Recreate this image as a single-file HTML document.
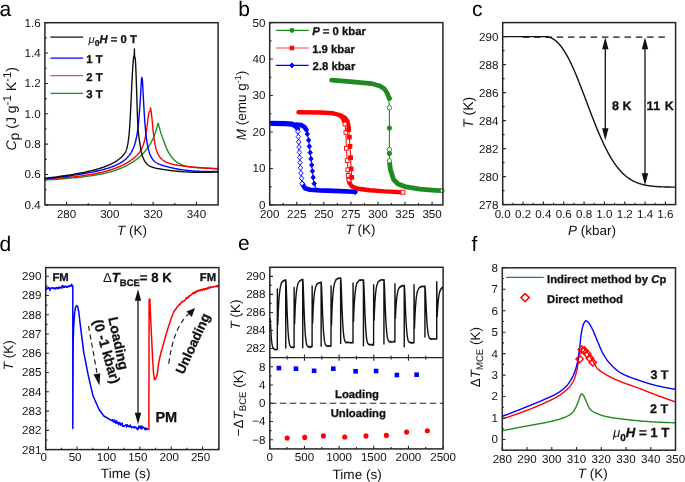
<!DOCTYPE html>
<html><head><meta charset="utf-8"><style>
html,body{margin:0;padding:0;background:#fff;}
svg{display:block;will-change:transform;}
text{font-family:"Liberation Sans", sans-serif;text-rendering:geometricPrecision;}
text[font-weight="bold"]{stroke:#111;stroke-width:0.3px;}
</style></head><body>
<svg width="685" height="482" viewBox="0 0 685 482">
<rect width="685" height="482" fill="#fff"/>
<text x="-0.6" y="15.6" font-size="21" fill="#000">a</text>
<text x="238.3" y="15.6" font-size="21" fill="#000">b</text>
<text x="472" y="15.6" font-size="21" fill="#000">c</text>
<text x="-0.6" y="251.3" font-size="21" fill="#000">d</text>
<text x="238" y="250.2" font-size="21" fill="#000">e</text>
<text x="471.6" y="250.5" font-size="21" fill="#000">f</text>
<polyline points="44.9,180.06 48.09,179.85 51.2,179.65 54.21,179.44 57.14,179.24 59.99,179.02 62.76,178.81 65.46,178.59 68.07,178.37 70.62,178.14 73.09,177.91 75.49,177.68 77.83,177.44 80.1,177.19 82.3,176.94 84.45,176.68 86.53,176.42 88.56,176.14 90.53,175.87 92.45,175.58 94.31,175.29 96.12,174.99 97.87,174.68 99.58,174.36 101.24,174.03 102.86,173.7 104.43,173.35 105.95,173 107.44,172.63 108.88,172.26 110.28,171.88 111.64,171.49 112.96,171.09 114.25,170.68 115.5,170.27 116.72,169.85 117.9,169.42 119.05,168.99 120.16,168.55 121.25,168.1 122.3,167.65 123.33,167.2 124.32,166.74 125.29,166.27 126.23,165.8 127.15,165.33 128.04,164.85 128.9,164.37 129.74,163.89 130.56,163.41 131.35,162.92 132.12,162.43 132.87,161.94 133.6,161.45 134.31,160.96 135,160.46 135.67,159.97 136.32,159.48 136.95,158.98 137.57,158.49 138.16,158 138.74,157.51 139.31,157.02 139.86,156.53 140.39,156.05 140.91,155.57 141.41,155.09 141.9,154.61 142.38,154.13 142.84,153.66 143.29,153.19 143.73,152.72 144.15,152.25 144.57,151.78 144.97,151.32 145.36,150.86 145.74,150.4 146.11,149.95 146.46,149.5 146.81,149.05 147.15,148.6 147.48,148.15 147.8,147.71 148.11,147.27 148.41,146.84 148.71,146.4 148.99,145.97 149.27,145.54 149.54,145.12 149.8,144.7 150.06,144.28 150.3,143.86 150.54,143.45 150.78,143.04 151.01,142.63 151.23,142.23 151.44,141.82 151.65,141.43 151.85,141.03 152.05,140.64 152.24,140.25 152.43,139.87 152.61,139.49 152.79,139.11 152.96,138.74 153.12,138.37 153.29,138 153.44,137.64 153.6,137.28 153.74,136.92 153.89,136.57 154.03,136.22 154.17,135.87 154.3,135.53 154.43,135.19 154.55,134.86 154.67,134.53 154.79,134.21 154.91,133.88 155.02,133.57 155.13,133.25 155.23,132.94 155.34,132.64 155.44,132.34 155.53,132.04 155.63,131.75 155.72,131.46 155.81,131.17 155.89,130.89 155.98,130.62 156.06,130.35 156.14,130.08 156.22,129.82 156.29,129.56 156.37,129.31 156.44,129.06 156.51,128.82 156.57,128.58 156.64,128.34 156.7,128.11 156.76,127.89 156.82,127.67 156.88,127.45 156.94,127.24 156.99,127.04 157.05,126.84 157.1,126.64 157.15,126.45 157.2,126.27 157.24,126.09 157.29,125.91 157.34,125.74 157.38,125.58 157.42,125.42 157.46,125.26 157.5,125.11 157.54,124.97 157.58,124.83 157.62,124.7 157.65,124.57 157.69,124.45 157.72,124.34 157.76,124.23 157.79,124.12 157.82,124.02 157.85,123.93 157.88,123.84 157.91,123.76 157.94,123.68 157.96,123.61 157.99,123.55 158.01,123.49 158.04,123.44 158.06,123.39 158.09,123.35 158.11,123.32 158.13,123.29 158.15,123.26 158.17,123.25 158.19,123.24 158.21,123.23 158.23,123.24 158.25,123.25 158.27,123.26 158.29,123.28 158.3,123.31 158.32,123.35 158.34,123.39 158.35,123.43 158.37,123.49 158.38,123.55 158.4,123.62 158.41,123.69 158.43,123.77 158.44,123.86 158.45,123.95 158.46,124.06 158.48,124.16 158.49,124.28 158.5,124.4 158.51,124.45 158.52,124.5 158.53,124.55 158.54,124.61 158.55,124.66 158.57,124.71 158.58,124.76 158.59,124.82 158.6,124.87 158.61,124.93 158.63,124.98 158.64,125.04 158.65,125.09 158.67,125.15 158.68,125.21 158.7,125.27 158.71,125.33 158.73,125.39 158.75,125.45 158.76,125.52 158.78,125.58 158.8,125.65 158.81,125.71 158.83,125.78 158.85,125.85 158.87,125.92 158.89,125.99 158.91,126.07 158.93,126.14 158.95,126.22 158.97,126.3 159,126.38 159.02,126.46 159.04,126.55 159.07,126.64 159.09,126.72 159.12,126.81 159.14,126.91 159.17,127 159.2,127.1 159.22,127.2 159.25,127.3 159.28,127.41 159.31,127.51 159.34,127.62 159.37,127.73 159.41,127.85 159.44,127.96 159.47,128.08 159.51,128.21 159.54,128.33 159.58,128.46 159.62,128.59 159.66,128.73 159.7,128.86 159.74,129 159.78,129.15 159.82,129.29 159.87,129.44 159.91,129.6 159.96,129.75 160.01,129.91 160.05,130.08 160.1,130.24 160.16,130.41 160.21,130.59 160.26,130.77 160.32,130.95 160.37,131.13 160.43,131.32 160.49,131.52 160.55,131.72 160.61,131.92 160.68,132.12 160.74,132.33 160.81,132.55 160.88,132.77 160.95,132.99 161.02,133.22 161.1,133.45 161.17,133.68 161.25,133.92 161.33,134.17 161.42,134.42 161.5,134.67 161.59,134.93 161.68,135.2 161.77,135.47 161.86,135.74 161.96,136.02 162.06,136.3 162.16,136.59 162.26,136.89 162.37,137.19 162.47,137.49 162.59,137.81 162.7,138.13 162.82,138.45 162.94,138.79 163.06,139.13 163.19,139.48 163.32,139.84 163.45,140.2 163.59,140.58 163.73,140.96 163.87,141.35 164.02,141.75 164.17,142.16 164.32,142.59 164.48,143.02 164.64,143.46 164.81,143.91 164.98,144.36 165.16,144.83 165.34,145.29 165.52,145.77 165.71,146.25 165.91,146.73 166.1,147.22 166.31,147.7 166.52,148.19 166.73,148.69 166.95,149.18 167.18,149.67 167.41,150.16 167.65,150.65 167.89,151.13 168.14,151.62 168.4,152.1 168.66,152.57 168.93,153.05 169.2,153.52 169.49,153.98 169.78,154.44 170.08,154.9 170.38,155.35 170.69,155.8 171.02,156.24 171.34,156.68 171.68,157.11 172.03,157.54 172.38,157.96 172.75,158.37 173.12,158.78 173.5,159.18 173.9,159.57 174.3,159.96 174.71,160.34 175.14,160.71 175.57,161.08 176.02,161.43 176.47,161.78 176.94,162.12 177.42,162.45 177.92,162.78 178.42,163.09 178.94,163.4 179.47,163.69 180.02,163.98 180.57,164.25 181.15,164.52 181.73,164.78 182.34,165.02 182.96,165.26 183.59,165.48 184.24,165.7 184.91,165.9 185.59,166.09 186.29,166.27 187.01,166.43 187.75,166.59 188.5,166.73 189.28,166.87 190.07,166.99 190.89,167.1 191.72,167.21 192.58,167.31 193.46,167.4 194.36,167.48 195.29,167.56 196.23,167.63 197.21,167.69 198.2,167.75 199.23,167.81 200.28,167.86 201.35,167.91 202.45,167.96 203.58,168.01 204.74,168.06 205.93,168.1 207.15,168.15 208.4,168.19 209.69,168.24 211,168.29 212.35,168.35 213.73,168.4 215.15,168.46 216.61,168.53 218.1,168.6" fill="none" stroke="#1f8a1f" stroke-width="1.4" stroke-linejoin="round" stroke-linecap="round"/>
<polyline points="44.9,178.87 47.83,178.72 50.67,178.57 53.44,178.41 56.13,178.24 58.75,178.07 61.3,177.88 63.77,177.69 66.18,177.49 68.52,177.28 70.79,177.07 73,176.84 75.15,176.61 77.24,176.37 79.28,176.13 81.25,175.88 83.18,175.62 85.05,175.36 86.86,175.09 88.63,174.81 90.35,174.53 92.02,174.24 93.65,173.95 95.23,173.65 96.76,173.35 98.26,173.04 99.71,172.72 101.12,172.4 102.49,172.08 103.83,171.75 105.13,171.42 106.39,171.08 107.62,170.74 108.81,170.39 109.97,170.04 111.1,169.69 112.2,169.33 113.27,168.97 114.3,168.61 115.31,168.24 116.29,167.87 117.25,167.5 118.18,167.13 119.08,166.75 119.95,166.37 120.81,165.99 121.64,165.61 122.44,165.22 123.23,164.84 123.99,164.45 124.73,164.06 125.45,163.67 126.15,163.28 126.83,162.88 127.5,162.49 128.14,162.1 128.77,161.7 129.38,161.31 129.97,160.91 130.54,160.52 131.1,160.12 131.65,159.73 132.18,159.34 132.69,158.94 133.19,158.55 133.68,158.16 134.15,157.77 134.61,157.38 135.06,156.99 135.5,156.61 135.92,156.22 136.33,155.84 136.73,155.46 137.12,155.07 137.5,154.69 137.86,154.3 138.22,153.9 138.57,153.5 138.91,153.1 139.24,152.68 139.56,152.26 139.87,151.83 140.17,151.39 140.46,150.93 140.75,150.46 141.03,149.98 141.3,149.48 141.56,148.97 141.82,148.44 142.06,147.9 142.31,147.34 142.54,146.77 142.77,146.19 142.99,145.6 143.21,144.99 143.42,144.37 143.62,143.74 143.82,143.09 144.01,142.44 144.2,141.77 144.38,141.09 144.56,140.4 144.73,139.7 144.9,138.99 145.06,138.27 145.22,137.54 145.38,136.8 145.53,136.05 145.67,135.29 145.81,134.53 145.95,133.75 146.09,132.97 146.22,132.17 146.34,131.38 146.47,130.57 146.59,129.76 146.7,128.94 146.82,128.11 146.93,127.29 147.03,126.46 147.14,125.65 147.24,124.84 147.34,124.04 147.43,123.26 147.53,122.5 147.62,121.76 147.7,121.05 147.79,120.36 147.87,119.71 147.95,119.08 148.03,118.49 148.11,117.93 148.18,117.39 148.26,116.89 148.33,116.41 148.39,115.96 148.46,115.53 148.53,115.13 148.59,114.75 148.65,114.4 148.71,114.07 148.77,113.76 148.82,113.48 148.88,113.21 148.93,112.97 148.98,112.74 149.03,112.54 149.08,112.35 149.13,112.17 149.18,112.02 149.22,111.88 149.26,111.75 149.31,111.64 149.35,111.54 149.39,111.45 149.43,111.37 149.46,111.31 149.5,111.25 149.54,111.21 149.57,111.17 149.61,111.14 149.64,111.12 149.67,111.11 149.7,111.1 149.73,111.09 149.76,111.09 149.79,111.09 149.82,111.09 149.85,111.1 149.87,111.11 149.9,111.11 149.92,111.12 149.95,111.13 149.97,111.13 149.99,111.13 150.02,111.13 150.04,111.12 150.06,111.11 150.08,111.09 150.1,111.06 150.12,111.03 150.14,110.99 150.16,110.94 150.17,110.88 150.19,110.81 150.21,110.73 150.22,110.64 150.24,110.53 150.26,110.41 150.27,110.28 150.29,110.13 150.3,109.97 150.31,109.79 150.33,109.59 150.34,109.37 150.35,109.14 150.36,108.89 150.38,108.61 150.39,108.32 150.4,108 150.41,108.05 150.42,108.11 150.43,108.16 150.44,108.2 150.46,108.24 150.47,108.29 150.48,108.33 150.49,108.37 150.5,108.4 150.52,108.44 150.53,108.48 150.55,108.52 150.56,108.56 150.57,108.6 150.59,108.64 150.6,108.68 150.62,108.73 150.64,108.77 150.65,108.83 150.67,108.88 150.69,108.94 150.71,109 150.72,109.06 150.74,109.13 150.76,109.21 150.78,109.29 150.8,109.37 150.82,109.46 150.85,109.56 150.87,109.67 150.89,109.78 150.91,109.9 150.94,110.03 150.96,110.16 150.99,110.31 151.01,110.46 151.04,110.62 151.07,110.8 151.09,110.98 151.12,111.17 151.15,111.38 151.18,111.59 151.21,111.82 151.25,112.06 151.28,112.31 151.31,112.57 151.35,112.84 151.38,113.13 151.42,113.44 151.45,113.75 151.49,114.08 151.53,114.43 151.57,114.79 151.61,115.17 151.65,115.56 151.7,115.97 151.74,116.39 151.79,116.83 151.83,117.29 151.88,117.77 151.93,118.26 151.98,118.77 152.03,119.3 152.09,119.86 152.14,120.42 152.2,121.01 152.26,121.62 152.31,122.25 152.37,122.9 152.44,123.56 152.5,124.24 152.57,124.93 152.63,125.64 152.7,126.35 152.77,127.08 152.85,127.82 152.92,128.56 153,129.32 153.07,130.08 153.15,130.84 153.24,131.6 153.32,132.37 153.41,133.14 153.5,133.91 153.59,134.68 153.68,135.45 153.78,136.22 153.88,136.98 153.98,137.74 154.08,138.49 154.19,139.24 154.3,139.99 154.41,140.72 154.53,141.45 154.65,142.17 154.77,142.88 154.89,143.58 155.02,144.27 155.15,144.94 155.29,145.61 155.43,146.26 155.57,146.89 155.71,147.51 155.86,148.11 156.02,148.7 156.17,149.27 156.33,149.82 156.5,150.35 156.67,150.87 156.84,151.37 157.02,151.85 157.21,152.32 157.4,152.77 157.59,153.21 157.79,153.64 157.99,154.06 158.2,154.46 158.41,154.85 158.63,155.24 158.86,155.61 159.09,155.98 159.33,156.33 159.57,156.68 159.82,157.02 160.08,157.35 160.34,157.67 160.61,157.99 160.89,158.29 161.18,158.59 161.47,158.88 161.77,159.16 162.08,159.44 162.39,159.71 162.72,159.97 163.05,160.22 163.39,160.47 163.74,160.71 164.1,160.94 164.47,161.17 164.85,161.39 165.24,161.6 165.63,161.81 166.04,162.01 166.46,162.21 166.89,162.4 167.34,162.59 167.79,162.77 168.25,162.95 168.73,163.12 169.22,163.29 169.72,163.45 170.24,163.61 170.77,163.76 171.31,163.91 171.87,164.06 172.44,164.2 173.03,164.34 173.63,164.48 174.25,164.61 174.88,164.74 175.53,164.87 176.2,164.99 176.89,165.11 177.59,165.23 178.31,165.35 179.05,165.46 179.81,165.57 180.59,165.68 181.39,165.79 182.21,165.9 183.05,166 183.92,166.11 184.81,166.21 185.72,166.31 186.65,166.42 187.61,166.52 188.59,166.62 189.6,166.72 190.64,166.82 191.7,166.92 192.79,167.02 193.91,167.12 195.06,167.22 196.24,167.32 197.44,167.43 198.69,167.53 199.96,167.64 201.26,167.74 202.61,167.85 203.98,167.96 205.39,168.07 206.84,168.18 208.33,168.3 209.85,168.42 211.42,168.54 213.02,168.66 214.67,168.78 216.36,168.91 218.1,169.04" fill="none" stroke="#ff0000" stroke-width="1.4" stroke-linejoin="round" stroke-linecap="round"/>
<polyline points="44.9,178.92 47.55,178.62 50.13,178.32 52.64,178.02 55.09,177.72 57.46,177.43 59.77,177.14 62.02,176.85 64.21,176.56 66.33,176.27 68.4,175.99 70.41,175.71 72.37,175.43 74.28,175.15 76.13,174.87 77.93,174.59 79.68,174.31 81.39,174.03 83.05,173.76 84.66,173.48 86.23,173.2 87.76,172.93 89.25,172.65 90.69,172.37 92.1,172.1 93.46,171.82 94.79,171.54 96.09,171.26 97.35,170.98 98.57,170.7 99.76,170.42 100.92,170.14 102.05,169.85 103.14,169.56 104.21,169.28 105.25,168.99 106.26,168.69 107.24,168.4 108.19,168.1 109.12,167.8 110.03,167.5 110.9,167.2 111.76,166.89 112.59,166.58 113.4,166.27 114.19,165.95 114.95,165.63 115.7,165.3 116.42,164.98 117.13,164.65 117.81,164.31 118.48,163.97 119.13,163.63 119.76,163.28 120.37,162.93 120.97,162.57 121.55,162.21 122.12,161.84 122.67,161.47 123.2,161.09 123.72,160.71 124.23,160.32 124.72,159.93 125.2,159.53 125.66,159.12 126.12,158.71 126.56,158.3 126.99,157.87 127.4,157.44 127.81,157.01 128.2,156.56 128.59,156.11 128.96,155.65 129.32,155.19 129.68,154.72 130.02,154.24 130.36,153.75 130.68,153.26 131,152.76 131.31,152.25 131.61,151.73 131.9,151.2 132.18,150.66 132.46,150.11 132.72,149.55 132.98,148.98 133.24,148.4 133.49,147.81 133.73,147.21 133.96,146.59 134.19,145.97 134.41,145.33 134.62,144.68 134.83,144.01 135.03,143.34 135.23,142.64 135.42,141.94 135.61,141.22 135.79,140.48 135.97,139.73 136.14,138.97 136.31,138.19 136.47,137.39 136.63,136.58 136.79,135.75 136.94,134.9 137.08,134.04 137.23,133.16 137.36,132.26 137.5,131.34 137.63,130.41 137.76,129.45 137.88,128.48 138,127.48 138.12,126.48 138.23,125.45 138.34,124.42 138.45,123.37 138.56,122.32 138.66,121.26 138.76,120.19 138.85,119.12 138.95,118.05 139.04,116.98 139.13,115.92 139.21,114.85 139.3,113.8 139.38,112.75 139.46,111.71 139.54,110.69 139.61,109.67 139.68,108.67 139.76,107.68 139.83,106.7 139.89,105.73 139.96,104.78 140.02,103.83 140.08,102.9 140.14,101.98 140.2,101.08 140.26,100.19 140.32,99.31 140.37,98.45 140.42,97.6 140.47,96.76 140.52,95.94 140.57,95.14 140.62,94.34 140.66,93.57 140.71,92.81 140.75,92.06 140.79,91.33 140.84,90.62 140.88,89.92 140.91,89.24 140.95,88.58 140.99,87.93 141.02,87.3 141.06,86.69 141.09,86.1 141.13,85.52 141.16,84.96 141.19,84.42 141.22,83.9 141.25,83.4 141.28,82.91 141.31,82.45 141.33,82 141.36,81.57 141.38,81.17 141.41,80.78 141.43,80.42 141.46,80.07 141.48,79.74 141.5,79.44 141.52,79.16 141.55,78.9 141.57,78.66 141.59,78.44 141.61,78.24 141.62,78.07 141.64,77.92 141.66,77.79 141.68,77.68 141.69,77.6 141.71,77.54 141.73,77.51 141.74,77.5 141.76,77.51 141.77,77.55 141.79,77.61 141.8,77.69 141.81,77.81 141.83,77.94 141.84,78.1 141.85,78.29 141.87,78.5 141.88,78.74 141.89,79.01 141.9,79.3 141.91,79.09 141.92,78.9 141.93,78.73 141.94,78.57 141.96,78.42 141.97,78.29 141.98,78.17 141.99,78.08 142.01,77.99 142.02,77.93 142.03,77.88 142.05,77.84 142.06,77.83 142.08,77.83 142.09,77.85 142.11,77.88 142.13,77.93 142.14,78 142.16,78.09 142.18,78.2 142.2,78.32 142.22,78.47 142.23,78.63 142.25,78.81 142.27,79.01 142.29,79.23 142.32,79.46 142.34,79.72 142.36,80 142.38,80.29 142.41,80.61 142.43,80.95 142.46,81.31 142.48,81.68 142.51,82.08 142.53,82.5 142.56,82.94 142.59,83.4 142.62,83.89 142.65,84.39 142.68,84.92 142.71,85.47 142.75,86.04 142.78,86.63 142.81,87.25 142.85,87.89 142.88,88.55 142.92,89.24 142.96,89.94 143,90.68 143.04,91.43 143.08,92.21 143.12,93.01 143.16,93.84 143.21,94.69 143.26,95.57 143.3,96.47 143.35,97.39 143.4,98.33 143.45,99.3 143.5,100.28 143.56,101.29 143.61,102.31 143.67,103.35 143.73,104.41 143.79,105.49 143.85,106.58 143.91,107.68 143.97,108.8 144.04,109.94 144.11,111.08 144.18,112.24 144.25,113.4 144.32,114.58 144.4,115.76 144.48,116.95 144.56,118.14 144.64,119.34 144.72,120.53 144.81,121.72 144.9,122.91 144.99,124.09 145.08,125.26 145.18,126.43 145.27,127.58 145.38,128.72 145.48,129.84 145.59,130.95 145.69,132.03 145.81,133.11 145.92,134.16 146.04,135.19 146.16,136.21 146.29,137.21 146.42,138.19 146.55,139.15 146.68,140.1 146.82,141.02 146.96,141.93 147.11,142.82 147.26,143.69 147.41,144.54 147.57,145.38 147.73,146.19 147.9,146.99 148.07,147.77 148.25,148.53 148.43,149.27 148.61,149.99 148.8,150.69 149,151.37 149.2,152.04 149.41,152.68 149.62,153.31 149.83,153.92 150.06,154.5 150.29,155.07 150.52,155.62 150.76,156.15 151.01,156.66 151.27,157.15 151.53,157.62 151.8,158.07 152.07,158.5 152.35,158.92 152.64,159.32 152.94,159.7 153.25,160.06 153.56,160.42 153.89,160.75 154.22,161.07 154.56,161.38 154.91,161.68 155.27,161.96 155.63,162.24 156.01,162.5 156.4,162.75 156.8,162.99 157.21,163.23 157.63,163.45 158.06,163.67 158.5,163.88 158.96,164.08 159.43,164.28 159.91,164.47 160.4,164.66 160.9,164.84 161.42,165.02 161.96,165.2 162.5,165.37 163.07,165.54 163.64,165.72 164.23,165.89 164.84,166.06 165.47,166.23 166.11,166.41 166.77,166.58 167.44,166.76 168.14,166.94 168.85,167.12 169.58,167.31 170.33,167.49 171.11,167.67 171.9,167.86 172.71,168.04 173.55,168.22 174.4,168.4 175.28,168.58 176.19,168.76 177.12,168.94 178.07,169.11 179.05,169.28 180.05,169.45 181.08,169.61 182.14,169.77 183.23,169.93 184.35,170.08 185.49,170.22 186.67,170.36 187.88,170.5 189.12,170.62 190.4,170.75 191.7,170.86 193.05,170.97 194.43,171.07 195.84,171.16 197.3,171.24 198.79,171.32 200.32,171.39 201.9,171.44 203.51,171.49 205.17,171.53 206.88,171.56 208.63,171.57 210.42,171.58 212.27,171.57 214.16,171.56 216.1,171.53 218.1,171.49" fill="none" stroke="#0000ff" stroke-width="1.4" stroke-linejoin="round" stroke-linecap="round"/>
<polyline points="44.9,178.24 47.31,177.96 49.66,177.68 51.95,177.4 54.17,177.13 56.34,176.85 58.44,176.57 60.49,176.29 62.49,176.01 64.43,175.73 66.32,175.45 68.16,175.17 69.94,174.89 71.69,174.61 73.38,174.33 75.03,174.05 76.63,173.77 78.19,173.48 79.71,173.2 81.19,172.92 82.63,172.63 84.03,172.35 85.39,172.06 86.72,171.77 88.01,171.49 89.27,171.2 90.49,170.91 91.68,170.62 92.84,170.33 93.96,170.04 95.06,169.75 96.13,169.46 97.16,169.16 98.17,168.87 99.16,168.57 100.11,168.28 101.05,167.98 101.95,167.68 102.83,167.38 103.69,167.08 104.53,166.78 105.34,166.48 106.13,166.17 106.9,165.87 107.65,165.56 108.38,165.25 109.09,164.94 109.78,164.63 110.45,164.32 111.1,164.01 111.74,163.7 112.36,163.38 112.96,163.06 113.55,162.75 114.12,162.43 114.67,162.1 115.21,161.78 115.74,161.46 116.25,161.13 116.75,160.81 117.23,160.48 117.7,160.15 118.16,159.81 118.61,159.48 119.04,159.15 119.47,158.81 119.88,158.47 120.28,158.13 120.67,157.79 121.05,157.44 121.42,157.1 121.78,156.75 122.13,156.4 122.47,156.05 122.8,155.69 123.12,155.34 123.43,154.98 123.74,154.61 124.04,154.24 124.32,153.85 124.61,153.44 124.88,153.01 125.15,152.56 125.4,152.08 125.66,151.57 125.9,151.02 126.14,150.43 126.37,149.8 126.6,149.13 126.82,148.41 127.03,147.63 127.24,146.8 127.45,145.91 127.64,144.95 127.84,143.93 128.02,142.84 128.2,141.67 128.38,140.43 128.55,139.11 128.72,137.7 128.88,136.2 129.04,134.61 129.2,132.93 129.35,131.15 129.49,129.26 129.64,127.28 129.78,125.22 129.91,123.09 130.04,120.91 130.17,118.68 130.29,116.43 130.41,114.15 130.53,111.88 130.65,109.61 130.76,107.36 130.87,105.12 130.97,102.91 131.08,100.73 131.18,98.59 131.27,96.5 131.37,94.45 131.46,92.46 131.55,90.53 131.64,88.67 131.72,86.88 131.8,85.16 131.88,83.51 131.96,81.92 132.04,80.4 132.11,78.94 132.18,77.55 132.26,76.21 132.32,74.94 132.39,73.72 132.45,72.56 132.52,71.45 132.58,70.4 132.64,69.4 132.7,68.44 132.75,67.54 132.81,66.69 132.86,65.88 132.91,65.12 132.96,64.4 133.01,63.72 133.06,63.08 133.11,62.49 133.15,61.92 133.2,61.4 133.24,60.91 133.28,60.45 133.32,60.03 133.36,59.64 133.4,59.27 133.44,58.94 133.48,58.62 133.51,58.34 133.55,58.07 133.58,57.83 133.61,57.61 133.64,57.41 133.68,57.23 133.71,57.06 133.73,56.9 133.76,56.76 133.79,56.64 133.82,56.52 133.84,56.41 133.87,56.31 133.9,56.21 133.92,56.12 133.94,56.03 133.97,55.94 133.99,55.86 134.01,55.77 134.03,55.68 134.05,55.59 134.07,55.49 134.09,55.38 134.11,55.27 134.13,55.14 134.15,55.01 134.16,54.86 134.18,54.69 134.2,54.52 134.21,54.32 134.23,54.11 134.25,53.87 134.26,53.62 134.27,53.34 134.29,53.04 134.3,52.71 134.32,52.36 134.33,51.98 134.34,51.56 134.35,51.12 134.37,50.64 134.38,50.13 134.39,49.58 134.4,49 134.41,49.83 134.42,50.59 134.43,51.3 134.45,51.95 134.46,52.55 134.47,53.1 134.48,53.59 134.5,54.04 134.51,54.45 134.52,54.81 134.54,55.14 134.55,55.43 134.57,55.68 134.58,55.9 134.6,56.09 134.61,56.26 134.63,56.4 134.65,56.51 134.67,56.61 134.68,56.68 134.7,56.75 134.72,56.8 134.74,56.83 134.76,56.86 134.78,56.89 134.8,56.91 134.83,56.93 134.85,56.95 134.87,56.97 134.9,57 134.92,57.04 134.95,57.09 134.97,57.16 135,57.23 135.02,57.33 135.05,57.45 135.08,57.59 135.11,57.75 135.14,57.94 135.17,58.17 135.2,58.42 135.24,58.71 135.27,59.04 135.31,59.41 135.34,59.81 135.38,60.27 135.41,60.77 135.45,61.32 135.49,61.92 135.53,62.57 135.58,63.28 135.62,64.05 135.66,64.88 135.71,65.78 135.75,66.74 135.8,67.76 135.85,68.86 135.9,70.04 135.95,71.28 136.01,72.61 136.06,74.01 136.12,75.5 136.17,77.08 136.23,78.74 136.29,80.49 136.36,82.33 136.42,84.27 136.49,86.3 136.56,88.44 136.62,90.68 136.7,93.01 136.77,95.42 136.85,97.9 136.92,100.42 137,102.98 137.08,105.55 137.17,108.12 137.25,110.67 137.34,113.18 137.43,115.64 137.53,118.03 137.62,120.33 137.72,122.54 137.82,124.62 137.93,126.56 138.04,128.36 138.15,129.98 138.26,131.44 138.37,132.75 138.49,133.93 138.62,135 138.74,135.99 138.87,136.92 139,137.8 139.14,138.67 139.28,139.54 139.42,140.43 139.57,141.37 139.72,142.36 139.88,143.38 140.04,144.44 140.2,145.51 140.37,146.59 140.55,147.66 140.72,148.72 140.91,149.74 141.1,150.73 141.29,151.67 141.49,152.55 141.69,153.38 141.9,154.17 142.12,154.92 142.34,155.64 142.56,156.33 142.8,156.99 143.04,157.62 143.28,158.23 143.54,158.82 143.8,159.38 144.06,159.92 144.34,160.44 144.62,160.93 144.91,161.4 145.2,161.86 145.51,162.29 145.82,162.7 146.15,163.09 146.48,163.47 146.82,163.83 147.17,164.17 147.52,164.49 147.89,164.8 148.27,165.09 148.66,165.37 149.06,165.63 149.47,165.88 149.89,166.12 150.32,166.35 150.77,166.56 151.22,166.77 151.69,166.96 152.18,167.14 152.67,167.32 153.18,167.48 153.7,167.64 154.24,167.79 154.79,167.94 155.36,168.07 155.94,168.21 156.54,168.34 157.15,168.46 157.78,168.58 158.43,168.7 159.09,168.81 159.78,168.93 160.48,169.04 161.2,169.15 161.94,169.27 162.7,169.38 163.48,169.5 164.29,169.61 165.11,169.73 165.96,169.85 166.83,169.98 167.72,170.1 168.64,170.23 169.59,170.35 170.56,170.48 171.55,170.6 172.58,170.73 173.63,170.85 174.71,170.97 175.81,171.09 176.95,171.21 178.12,171.32 179.33,171.43 180.56,171.54 181.83,171.64 183.13,171.74 184.47,171.83 185.84,171.92 187.26,172 188.71,172.07 190.2,172.14 191.73,172.2 193.3,172.25 194.92,172.29 196.58,172.33 198.28,172.35 200.03,172.37 201.83,172.37 203.68,172.37 205.58,172.35 207.53,172.33 209.53,172.29 211.59,172.24 213.7,172.17 215.87,172.1 218.1,172.01" fill="none" stroke="#111" stroke-width="1.4" stroke-linejoin="round" stroke-linecap="round"/>
<path d="M50.4 37.1H83.1" stroke="#111" stroke-width="1.3"/>
<path d="M50.4 58.1H83.1" stroke="#0000ff" stroke-width="1.3"/>
<path d="M50.4 75.7H83.1" stroke="#ff4040" stroke-width="1.3"/>
<path d="M50.4 93.4H83.1" stroke="#1f8a1f" stroke-width="1.3"/>
<text x="88.6" y="42.8" font-size="11.3" font-weight="bold" fill="#111"><tspan font-style="italic" font-weight="normal" stroke-width="0">μ</tspan><tspan font-size="8.5" dy="3">0</tspan><tspan font-style="italic" dy="-3">H</tspan> = 0 T</text>
<text x="86.3" y="62.9" font-size="11.3" font-weight="bold" fill="#111">1 T</text>
<text x="86.3" y="80.5" font-size="11.3" font-weight="bold" fill="#111">2 T</text>
<text x="86.3" y="98.2" font-size="11.3" font-weight="bold" fill="#111">3 T</text>
<rect x="44.9" y="22.7" width="173.2" height="182.2" fill="none" stroke="#262626" stroke-width="1.5"/>
<path d="M66.55 204.9V201.7M109.85 204.9V201.7M153.15 204.9V201.7M196.45 204.9V201.7M88.2 204.9V203.1M131.5 204.9V203.1M174.8 204.9V203.1" stroke="#262626" stroke-width="1.1" fill="none"/>
<text x="66.55" y="218.4" font-size="11.6" text-anchor="middle" fill="#111">280</text>
<text x="109.85" y="218.4" font-size="11.6" text-anchor="middle" fill="#111">300</text>
<text x="153.15" y="218.4" font-size="11.6" text-anchor="middle" fill="#111">320</text>
<text x="196.45" y="218.4" font-size="11.6" text-anchor="middle" fill="#111">340</text>
<path d="M44.9 204.9H48.1M44.9 174.53H48.1M44.9 144.17H48.1M44.9 113.8H48.1M44.9 83.43H48.1M44.9 53.07H48.1M44.9 22.7H48.1M44.9 189.72H46.7M44.9 159.35H46.7M44.9 128.98H46.7M44.9 98.62H46.7M44.9 68.25H46.7M44.9 37.88H46.7" stroke="#262626" stroke-width="1.1" fill="none"/>
<text x="40.6" y="208.8" font-size="11.6" text-anchor="end" fill="#111">0.4</text>
<text x="40.6" y="178.43" font-size="11.6" text-anchor="end" fill="#111">0.6</text>
<text x="40.6" y="148.07" font-size="11.6" text-anchor="end" fill="#111">0.8</text>
<text x="40.6" y="117.7" font-size="11.6" text-anchor="end" fill="#111">1.0</text>
<text x="40.6" y="87.33" font-size="11.6" text-anchor="end" fill="#111">1.2</text>
<text x="40.6" y="56.97" font-size="11.6" text-anchor="end" fill="#111">1.4</text>
<text x="40.6" y="26.6" font-size="11.6" text-anchor="end" fill="#111">1.6</text>
<text x="132" y="234.5" font-size="13.5" text-anchor="middle" fill="#111"><tspan font-style="italic">T</tspan> (K)</text>
<text transform="translate(15.6 108.8) rotate(-90)" font-size="14" text-anchor="middle" fill="#111"><tspan font-style="italic">C</tspan><tspan dy="3">p</tspan><tspan dy="-3"> (J g</tspan><tspan font-size="11.5" dy="-5">-1</tspan><tspan dy="5"> K</tspan><tspan font-size="11.5" dy="-5">-1</tspan><tspan dy="5">)</tspan></text>
<path d="M271.5 123.4 L285 123.6 L292 124.2 L295.5 125.8 L297.5 128.5" fill="none" stroke="#0000ff" stroke-width="5.2" stroke-linejoin="round" stroke-linecap="round"/>
<path d="M296 124.5 L301 125 L304.5 127 L306.5 130" fill="none" stroke="#0000ff" stroke-width="4.6" stroke-linejoin="round" stroke-linecap="round"/>
<path d="M297.5 128.5 L298.6 140 L299.5 155 L300.6 170 L302 182 L305 188" fill="none" stroke="#0000ff" stroke-width="1.0" stroke-linejoin="round" stroke-linecap="round"/>
<path d="M306.5 130 L308.6 140 L310.5 155 L312.3 170 L313.7 182 L316 188.5" fill="none" stroke="#0000ff" stroke-width="1.0" stroke-linejoin="round" stroke-linecap="round"/>
<path d="M302.5 184 L305 188.3 L310 189.8 L320 190.4 L340 191.1 L354.5 191.8" fill="none" stroke="#0000ff" stroke-width="4.6" stroke-linejoin="round" stroke-linecap="round"/>
<path d="M297.79 128.97L299.99 131.5L297.79 134.03L295.59 131.5Z" fill="#fff" stroke="#0000ff" stroke-width="0.9"/>
<path d="M298.28 134.17L300.48 136.7L298.28 139.23L296.08 136.7Z" fill="#fff" stroke="#0000ff" stroke-width="0.9"/>
<path d="M298.71 139.37L300.91 141.9L298.71 144.43L296.51 141.9Z" fill="#fff" stroke="#0000ff" stroke-width="0.9"/>
<path d="M299.03 144.57L301.23 147.1L299.03 149.63L296.83 147.1Z" fill="#fff" stroke="#0000ff" stroke-width="0.9"/>
<path d="M299.34 149.77L301.54 152.3L299.34 154.83L297.14 152.3Z" fill="#fff" stroke="#0000ff" stroke-width="0.9"/>
<path d="M299.68 154.97L301.88 157.5L299.68 160.03L297.48 157.5Z" fill="#fff" stroke="#0000ff" stroke-width="0.9"/>
<path d="M300.06 160.17L302.26 162.7L300.06 165.23L297.86 162.7Z" fill="#fff" stroke="#0000ff" stroke-width="0.9"/>
<path d="M300.45 165.37L302.65 167.9L300.45 170.43L298.25 167.9Z" fill="#fff" stroke="#0000ff" stroke-width="0.9"/>
<path d="M300.96 170.57L303.16 173.1L300.96 175.63L298.76 173.1Z" fill="#fff" stroke="#0000ff" stroke-width="0.9"/>
<path d="M301.57 175.77L303.77 178.3L301.57 180.83L299.37 178.3Z" fill="#fff" stroke="#0000ff" stroke-width="0.9"/>
<path d="M302 180.97L304.2 183.5L302 186.03L299.8 183.5Z" fill="#fff" stroke="#0000ff" stroke-width="0.9"/>
<path d="M307.34 131.47L309.54 134L307.34 136.53L305.14 134Z" fill="#0000ff" stroke="#0000ff" stroke-width="0.9"/>
<path d="M308.63 137.67L310.83 140.2L308.63 142.73L306.43 140.2Z" fill="#0000ff" stroke="#0000ff" stroke-width="0.9"/>
<path d="M309.41 143.87L311.61 146.4L309.41 148.93L307.21 146.4Z" fill="#0000ff" stroke="#0000ff" stroke-width="0.9"/>
<path d="M310.2 150.07L312.4 152.6L310.2 155.13L308 152.6Z" fill="#0000ff" stroke="#0000ff" stroke-width="0.9"/>
<path d="M310.96 156.27L313.16 158.8L310.96 161.33L308.76 158.8Z" fill="#0000ff" stroke="#0000ff" stroke-width="0.9"/>
<path d="M311.7 162.47L313.9 165L311.7 167.53L309.5 165Z" fill="#0000ff" stroke="#0000ff" stroke-width="0.9"/>
<path d="M312.44 168.67L314.64 171.2L312.44 173.73L310.24 171.2Z" fill="#0000ff" stroke="#0000ff" stroke-width="0.9"/>
<path d="M313.16 174.87L315.36 177.4L313.16 179.93L310.96 177.4Z" fill="#0000ff" stroke="#0000ff" stroke-width="0.9"/>
<path d="M314.27 181.07L316.47 183.6L314.27 186.13L312.07 183.6Z" fill="#0000ff" stroke="#0000ff" stroke-width="0.9"/>
<path d="M355.2 189.14L357.6 191.9L355.2 194.66L352.8 191.9Z" fill="#0000ff" stroke="#0000ff" stroke-width="0.9"/>
<path d="M298.5 112.2 L320 112.5 L333 113.3 L339 114.8 L342.5 117.5 L344.5 122" fill="none" stroke="#ff0000" stroke-width="4.4" stroke-linejoin="round" stroke-linecap="round"/>
<path d="M340 115 L345 117.5 L347.8 121.5 L348.8 127" fill="none" stroke="#ff0000" stroke-width="4.0" stroke-linejoin="round" stroke-linecap="round"/>
<path d="M345 124 L345.9 132.4 L346.4 148.3 L347.2 160.5 L347.8 169.8 L348.3 175.4 L349 180" fill="none" stroke="#ff0000" stroke-width="1.0" stroke-linejoin="round" stroke-linecap="round"/>
<path d="M348.7 129.6 L349.3 137.1 L350 146.4 L350.6 157.7 L351.1 168.9 L351.7 177.3" fill="none" stroke="#ff0000" stroke-width="1.0" stroke-linejoin="round" stroke-linecap="round"/>
<path d="M348.6 178 L349.5 183 L352 186.5 L358 188.8 L370 190.3 L385 191.4 L401.5 192.2" fill="none" stroke="#ff0000" stroke-width="4.4" stroke-linejoin="round" stroke-linecap="round"/>
<rect x="343.1" y="122.1" width="3.8" height="3.8" fill="#fff" stroke="#ff0000" stroke-width="0.9"/>
<rect x="344" y="130.5" width="3.8" height="3.8" fill="#fff" stroke="#ff0000" stroke-width="0.9"/>
<rect x="344.5" y="146.4" width="3.8" height="3.8" fill="#fff" stroke="#ff0000" stroke-width="0.9"/>
<rect x="345.3" y="158.6" width="3.8" height="3.8" fill="#fff" stroke="#ff0000" stroke-width="0.9"/>
<rect x="345.9" y="167.9" width="3.8" height="3.8" fill="#fff" stroke="#ff0000" stroke-width="0.9"/>
<rect x="346.4" y="173.5" width="3.8" height="3.8" fill="#fff" stroke="#ff0000" stroke-width="0.9"/>
<rect x="347.1" y="178.1" width="3.8" height="3.8" fill="#fff" stroke="#ff0000" stroke-width="0.9"/>
<rect x="346.8" y="127.7" width="3.8" height="3.8" fill="#ff0000" stroke="#ff0000" stroke-width="0.9"/>
<rect x="347.4" y="135.2" width="3.8" height="3.8" fill="#ff0000" stroke="#ff0000" stroke-width="0.9"/>
<rect x="348.1" y="144.5" width="3.8" height="3.8" fill="#ff0000" stroke="#ff0000" stroke-width="0.9"/>
<rect x="348.7" y="155.8" width="3.8" height="3.8" fill="#ff0000" stroke="#ff0000" stroke-width="0.9"/>
<rect x="349.2" y="167" width="3.8" height="3.8" fill="#ff0000" stroke="#ff0000" stroke-width="0.9"/>
<rect x="349.8" y="175.4" width="3.8" height="3.8" fill="#ff0000" stroke="#ff0000" stroke-width="0.9"/>
<rect x="400.9" y="190.2" width="4" height="4" fill="#fff" stroke="#ff0000" stroke-width="0.9"/>
<path d="M331.5 80.1 L350 81.6 L371.8 83.6 L380 86 L384.5 89 L387.4 93.5 L388.8 97.5" fill="none" stroke="#1f8a1f" stroke-width="4.6" stroke-linejoin="round" stroke-linecap="round"/>
<path d="M388.8 97.5 L389.4 110 L389.4 164" fill="none" stroke="#1f8a1f" stroke-width="1.1" stroke-linejoin="round" stroke-linecap="round"/>
<path d="M389.6 163 L390.5 170 L393.6 179.5 L398 184 L404.8 186.6 L420 189.2 L435 190.3 L441.5 190.7" fill="none" stroke="#1f8a1f" stroke-width="4.8" stroke-linejoin="round" stroke-linecap="round"/>
<circle cx="389.4" cy="98.3" r="2.2" fill="#1f8a1f" stroke="#1f8a1f" stroke-width="0.9"/>
<circle cx="389.4" cy="107.7" r="2.2" fill="#fff" stroke="#1f8a1f" stroke-width="0.9"/>
<circle cx="389.4" cy="128.1" r="2.2" fill="#1f8a1f" stroke="#1f8a1f" stroke-width="0.9"/>
<circle cx="389.4" cy="149.6" r="2.2" fill="#fff" stroke="#1f8a1f" stroke-width="0.9"/>
<circle cx="389.4" cy="153.4" r="2.2" fill="#1f8a1f" stroke="#1f8a1f" stroke-width="0.9"/>
<circle cx="389.4" cy="160.8" r="2.2" fill="#fff" stroke="#1f8a1f" stroke-width="0.9"/>
<circle cx="442.2" cy="190.7" r="2.0" fill="#fff" stroke="#1f8a1f" stroke-width="0.9"/>
<path d="M275.8 30.3H308.7" stroke="#1f8a1f" stroke-width="1.2"/>
<path d="M275.8 48.0H308.7" stroke="#ff4040" stroke-width="1.2"/>
<path d="M275.8 65.4H308.7" stroke="#0000ff" stroke-width="1.2"/>
<circle cx="291.9" cy="30.3" r="2.1" fill="#1f8a1f" stroke="#1f8a1f" stroke-width="0.9"/>
<rect x="290.1" y="46.2" width="3.6" height="3.6" fill="#ff0000" stroke="#ff0000" stroke-width="0.9"/>
<path d="M291.9 62.87L294.1 65.4L291.9 67.93L289.7 65.4Z" fill="#0000ff" stroke="#0000ff" stroke-width="0.9"/>
<text x="312.2" y="34.8" font-size="11.3" font-weight="bold" fill="#111"><tspan font-style="italic">P</tspan> = 0 kbar</text>
<text x="312.2" y="52.7" font-size="11.3" font-weight="bold" fill="#111">1.9 kbar</text>
<text x="312.6" y="69.9" font-size="11.3" font-weight="bold" fill="#111">2.8 kbar</text>
<rect x="269.7" y="22.6" width="173.2" height="182.3" fill="none" stroke="#262626" stroke-width="1.5"/>
<path d="M269.7 204.9V201.7M296.76 204.9V201.7M323.82 204.9V201.7M350.89 204.9V201.7M377.95 204.9V201.7M405.01 204.9V201.7M432.07 204.9V201.7M283.23 204.9V203.1M310.29 204.9V203.1M337.36 204.9V203.1M364.42 204.9V203.1M391.48 204.9V203.1M418.54 204.9V203.1" stroke="#262626" stroke-width="1.1" fill="none"/>
<text x="269.7" y="218.1" font-size="11.6" text-anchor="middle" fill="#111">200</text>
<text x="296.76" y="218.1" font-size="11.6" text-anchor="middle" fill="#111">225</text>
<text x="323.82" y="218.1" font-size="11.6" text-anchor="middle" fill="#111">250</text>
<text x="350.89" y="218.1" font-size="11.6" text-anchor="middle" fill="#111">275</text>
<text x="377.95" y="218.1" font-size="11.6" text-anchor="middle" fill="#111">300</text>
<text x="405.01" y="218.1" font-size="11.6" text-anchor="middle" fill="#111">325</text>
<text x="432.07" y="218.1" font-size="11.6" text-anchor="middle" fill="#111">350</text>
<path d="M269.7 204.9H272.9M269.7 168.44H272.9M269.7 131.98H272.9M269.7 95.52H272.9M269.7 59.06H272.9M269.7 22.6H272.9M269.7 186.67H271.5M269.7 150.21H271.5M269.7 113.75H271.5M269.7 77.29H271.5M269.7 40.83H271.5" stroke="#262626" stroke-width="1.1" fill="none"/>
<text x="265.4" y="208.8" font-size="11.6" text-anchor="end" fill="#111">0</text>
<text x="265.4" y="172.34" font-size="11.6" text-anchor="end" fill="#111">10</text>
<text x="265.4" y="135.88" font-size="11.6" text-anchor="end" fill="#111">20</text>
<text x="265.4" y="99.42" font-size="11.6" text-anchor="end" fill="#111">30</text>
<text x="265.4" y="62.96" font-size="11.6" text-anchor="end" fill="#111">40</text>
<text x="265.4" y="26.5" font-size="11.6" text-anchor="end" fill="#111">50</text>
<text x="360.5" y="234.3" font-size="13.5" text-anchor="middle" fill="#111"><tspan font-style="italic">T</tspan> (K)</text>
<text transform="translate(245.6 105.6) rotate(-90)" font-size="13.5" text-anchor="middle" fill="#111"><tspan font-style="italic">M</tspan> (emu g<tspan font-size="9" dy="-5">-1</tspan><tspan dy="5">)</tspan></text>
<polyline points="502.7,36.6 503.13,36.6 503.57,36.6 504,36.6 504.43,36.6 504.87,36.6 505.3,36.6 505.73,36.6 506.17,36.6 506.6,36.6 507.03,36.6 507.47,36.6 507.9,36.6 508.33,36.6 508.77,36.6 509.2,36.6 509.63,36.6 510.07,36.6 510.5,36.6 510.93,36.6 511.37,36.6 511.8,36.6 512.23,36.6 512.67,36.6 513.1,36.6 513.53,36.6 513.97,36.6 514.4,36.6 514.83,36.6 515.27,36.6 515.7,36.6 516.13,36.6 516.57,36.6 517,36.6 517.43,36.6 517.87,36.6 518.3,36.6 518.73,36.6 519.17,36.6 519.6,36.6 520.03,36.6 520.47,36.6 520.9,36.6 521.33,36.6 521.77,36.6 522.2,36.6 522.63,36.6 523.07,36.6 523.5,36.6 523.93,36.6 524.37,36.6 524.8,36.6 525.23,36.6 525.67,36.6 526.1,36.6 526.53,36.6 526.97,36.6 527.4,36.6 527.83,36.6 528.27,36.6 528.7,36.6 529.13,36.6 529.57,36.6 530,36.6 530.43,36.6 530.87,36.6 531.3,36.6 531.73,36.6 532.17,36.6 532.6,36.6 533.03,36.6 533.47,36.6 533.9,36.6 534.33,36.6 534.77,36.6 535.2,36.6 535.63,36.6 536.07,36.6 536.5,36.6 536.93,36.6 537.37,36.6 537.8,36.6 538.23,36.6 538.67,36.6 539.1,36.6 539.53,36.6 539.97,36.6 540.4,36.6 540.83,36.6 541.27,36.6 541.7,36.6 542.13,36.6 542.57,36.6 543,36.6 543.43,36.6 543.87,36.6 544.3,36.6 544.73,36.61 545.17,36.62 545.6,36.64 546.03,36.67 546.47,36.71 546.9,36.76 547.33,36.82 547.77,36.9 548.2,36.98 548.63,37.08 549.07,37.19 549.5,37.32 549.93,37.46 550.37,37.61 550.8,37.78 551.23,37.96 551.67,38.16 552.1,38.37 552.53,38.59 552.97,38.84 553.4,39.1 553.83,39.37 554.27,39.66 554.7,39.97 555.13,40.29 555.57,40.63 556,40.99 556.43,41.36 556.87,41.75 557.3,42.15 557.73,42.58 558.17,43.02 558.6,43.47 559.03,43.95 559.47,44.44 559.9,44.95 560.33,45.47 560.77,46.01 561.2,46.57 561.63,47.14 562.07,47.74 562.5,48.34 562.93,48.97 563.37,49.61 563.8,50.27 564.23,50.94 564.67,51.63 565.1,52.33 565.53,53.06 565.97,53.79 566.4,54.54 566.83,55.31 567.27,56.09 567.7,56.89 568.13,57.7 568.57,58.53 569,59.37 569.43,60.23 569.87,61.09 570.3,61.98 570.73,62.87 571.17,63.78 571.6,64.7 572.03,65.63 572.47,66.58 572.9,67.53 573.33,68.5 573.77,69.48 574.2,70.47 574.63,71.47 575.07,72.48 575.5,73.51 575.93,74.54 576.37,75.58 576.8,76.62 577.23,77.68 577.67,78.75 578.1,79.82 578.53,80.9 578.97,81.99 579.4,83.08 579.83,84.18 580.27,85.29 580.7,86.4 581.13,87.52 581.57,88.64 582,89.77 582.43,90.9 582.87,92.03 583.3,93.17 583.73,94.31 584.17,95.46 584.6,96.6 585.03,97.75 585.47,98.9 585.9,100.05 586.33,101.2 586.77,102.35 587.2,103.5 587.63,104.65 588.07,105.8 588.5,106.95 588.93,108.09 589.37,109.24 589.8,110.38 590.23,111.52 590.67,112.66 591.1,113.79 591.53,114.92 591.97,116.05 592.4,117.17 592.83,118.29 593.27,119.4 593.7,120.51 594.13,121.61 594.57,122.71 595,123.8 595.43,124.88 595.87,125.96 596.3,127.03 596.73,128.09 597.17,129.15 597.6,130.2 598.03,131.24 598.47,132.27 598.9,133.3 599.33,134.31 599.77,135.32 600.2,136.32 600.63,137.3 601.07,138.28 601.5,139.25 601.93,140.21 602.37,141.16 602.8,142.1 603.23,143.03 603.67,143.95 604.1,144.86 604.53,145.76 604.97,146.65 605.4,147.52 605.83,148.39 606.27,149.24 606.7,150.09 607.13,150.92 607.57,151.74 608,152.55 608.43,153.35 608.87,154.13 609.3,154.91 609.73,155.67 610.17,156.43 610.6,157.17 611.03,157.9 611.47,158.61 611.9,159.32 612.33,160.01 612.77,160.69 613.2,161.37 613.63,162.03 614.07,162.67 614.5,163.31 614.93,163.93 615.37,164.55 615.8,165.15 616.23,165.74 616.67,166.32 617.1,166.89 617.53,167.44 617.97,167.99 618.4,168.52 618.83,169.05 619.27,169.56 619.7,170.06 620.13,170.56 620.57,171.04 621,171.51 621.43,171.97 621.87,172.42 622.3,172.86 622.73,173.29 623.17,173.71 623.6,174.12 624.03,174.52 624.47,174.91 624.9,175.29 625.33,175.67 625.77,176.03 626.2,176.38 626.63,176.73 627.07,177.07 627.5,177.39 627.93,177.71 628.37,178.03 628.8,178.33 629.23,178.62 629.67,178.91 630.1,179.19 630.53,179.46 630.97,179.73 631.4,179.98 631.83,180.23 632.27,180.48 632.7,180.71 633.13,180.94 633.57,181.16 634,181.38 634.43,181.59 634.87,181.79 635.3,181.99 635.73,182.18 636.17,182.36 636.6,182.54 637.03,182.71 637.47,182.88 637.9,183.05 638.33,183.2 638.77,183.36 639.2,183.5 639.63,183.65 640.07,183.78 640.5,183.92 640.93,184.05 641.37,184.17 641.8,184.29 642.23,184.41 642.67,184.52 643.1,184.63 643.53,184.73 643.97,184.83 644.4,184.93 644.83,185.02 645.27,185.11 645.7,185.2 646.13,185.28 646.57,185.36 647,185.44 647.43,185.52 647.87,185.59 648.3,185.66 648.73,185.72 649.17,185.79 649.6,185.85 650.03,185.91 650.47,185.97 650.9,186.02 651.33,186.07 651.77,186.12 652.2,186.17 652.63,186.22 653.07,186.26 653.5,186.31 653.93,186.35 654.37,186.39 654.8,186.42 655.23,186.46 655.67,186.49 656.1,186.53 656.53,186.56 656.97,186.59 657.4,186.62 657.83,186.64 658.27,186.67 658.7,186.7 659.13,186.72 659.57,186.74 660,186.77 660.43,186.79 660.87,186.81 661.3,186.83 661.73,186.84 662.17,186.86 662.6,186.88 663.03,186.89 663.47,186.91 663.9,186.92 664.33,186.94 664.77,186.95 665.2,186.96 665.63,186.97 666.07,186.98 666.5,187 666.93,187.01 667.37,187.02 667.8,187.02 668.23,187.03 668.67,187.04 669.1,187.05 669.53,187.06 669.97,187.06 670.4,187.07 670.83,187.08 671.27,187.08 671.7,187.09 672.13,187.09 672.57,187.1 673,187.1 673.43,187.11 673.87,187.11 674.3,187.12 674.73,187.12 675.17,187.12 675.6,187.13" fill="none" stroke="#111" stroke-width="1.4" stroke-linejoin="round" stroke-linecap="round"/>
<path d="M522.8 37.1H665" stroke="#111" stroke-width="1.25" stroke-dasharray="6.5 4.8"/>
<path d="M605.3 48.3V129.3" stroke="#111" stroke-width="1.3"/>
<path d="M605.3 37.3L602.1 49.3L608.5 49.3Z" fill="#111"/>
<path d="M605.3 140.3L602.1 128.3L608.5 128.3Z" fill="#111"/>
<path d="M645 48.3V174.3" stroke="#111" stroke-width="1.3"/>
<path d="M645 37.3L641.8 49.3L648.2 49.3Z" fill="#111"/>
<path d="M645 185.3L641.8 173.3L648.2 173.3Z" fill="#111"/>
<text x="612" y="109.8" font-size="12.5" font-weight="bold" fill="#111">8 K</text>
<text x="646.6" y="109.8" font-size="12.5" font-weight="bold" fill="#111" letter-spacing="0.5">11 K</text>
<rect x="502.7" y="22.6" width="172.9" height="182" fill="none" stroke="#262626" stroke-width="1.5"/>
<path d="M502.7 204.6V201.4M523.04 204.6V201.4M543.38 204.6V201.4M563.72 204.6V201.4M584.06 204.6V201.4M604.41 204.6V201.4M624.75 204.6V201.4M645.09 204.6V201.4M665.43 204.6V201.4M512.87 204.6V202.8M533.21 204.6V202.8M553.55 204.6V202.8M573.89 204.6V202.8M594.24 204.6V202.8M614.58 204.6V202.8M634.92 204.6V202.8M655.26 204.6V202.8M675.6 204.6V202.8" stroke="#262626" stroke-width="1.1" fill="none"/>
<text x="502.7" y="217.8" font-size="11.6" text-anchor="middle" fill="#111">0.0</text>
<text x="523.04" y="217.8" font-size="11.6" text-anchor="middle" fill="#111">0.2</text>
<text x="543.38" y="217.8" font-size="11.6" text-anchor="middle" fill="#111">0.4</text>
<text x="563.72" y="217.8" font-size="11.6" text-anchor="middle" fill="#111">0.6</text>
<text x="584.06" y="217.8" font-size="11.6" text-anchor="middle" fill="#111">0.8</text>
<text x="604.41" y="217.8" font-size="11.6" text-anchor="middle" fill="#111">1.0</text>
<text x="624.75" y="217.8" font-size="11.6" text-anchor="middle" fill="#111">1.2</text>
<text x="645.09" y="217.8" font-size="11.6" text-anchor="middle" fill="#111">1.4</text>
<text x="665.43" y="217.8" font-size="11.6" text-anchor="middle" fill="#111">1.6</text>
<path d="M502.7 204.6H505.9M502.7 176.6H505.9M502.7 148.6H505.9M502.7 120.6H505.9M502.7 92.6H505.9M502.7 64.6H505.9M502.7 36.6H505.9M502.7 190.6H504.5M502.7 162.6H504.5M502.7 134.6H504.5M502.7 106.6H504.5M502.7 78.6H504.5M502.7 50.6H504.5M502.7 22.6H504.5" stroke="#262626" stroke-width="1.1" fill="none"/>
<text x="498.4" y="208.5" font-size="11.6" text-anchor="end" fill="#111">278</text>
<text x="498.4" y="180.5" font-size="11.6" text-anchor="end" fill="#111">280</text>
<text x="498.4" y="152.5" font-size="11.6" text-anchor="end" fill="#111">282</text>
<text x="498.4" y="124.5" font-size="11.6" text-anchor="end" fill="#111">284</text>
<text x="498.4" y="96.5" font-size="11.6" text-anchor="end" fill="#111">286</text>
<text x="498.4" y="68.5" font-size="11.6" text-anchor="end" fill="#111">288</text>
<text x="498.4" y="40.5" font-size="11.6" text-anchor="end" fill="#111">290</text>
<text x="592" y="235" font-size="13.5" text-anchor="middle" fill="#111"><tspan font-style="italic">P</tspan> (kbar)</text>
<text x="473" y="112.4" font-size="14" text-anchor="middle" fill="#111" transform="rotate(-90 473 112.4)"><tspan font-style="italic">T</tspan> (K)</text>
<polyline points="45.9,290.02 46.35,287.23 46.81,288.97 47.26,288.34 47.71,288.37 48.16,288.47 48.62,287.35 49.07,288.38 49.52,287.96 49.97,290.44 50.43,288.54 50.88,288.15 51.33,288.15 51.78,287.88 52.24,287.61 52.69,287.97 53.14,288.45 53.59,287.98 54.05,288.66 54.5,287.92 54.95,288.02 55.4,288.89 55.86,288.24 56.31,287.57 56.76,287.71 57.21,288.1 57.67,288.89 58.12,287.53 58.57,287.5 59.02,288.2 59.48,287.02 59.93,287.33 60.38,287.99 60.83,287.76 61.29,287.43 61.74,287.73 62.19,285.57 62.64,287.81 63.1,286.55 63.55,286.05 64,287.14 64.45,287.33 64.91,286.57 65.36,286.12 65.81,286.7 66.26,286.58 66.72,287.39 67.17,286.92 67.62,286.51 68.07,286.99 68.53,286.13 68.98,285.63 69.43,286.46 69.88,286.38 70.34,285.83 70.79,285.42 71.24,285.96 71.69,284.25 72.15,286.09 72.6,285.89 72.8,286 72.8,428.5 73.2,340 73.7,327 74.6,313 75.6,307 76.8,305.6 77.8,307 78.8,312 80.6,327.3 83.7,352.2 88.3,375.6 93,395.8 99.2,409.8 103.9,416 111.7,420.7 112.5,419.61 113.01,421.25 113.52,420.57 114.03,422.23 114.53,420.05 115.04,421.19 115.55,422.76 116.06,423.34 116.57,420.71 117.08,422.32 117.59,423.21 118.1,422.61 118.6,424.67 119.11,422.5 119.62,424 120.13,423 120.64,425.28 121.15,424.26 121.66,424.16 122.17,423.21 122.67,426.29 123.18,425.69 123.69,425.89 124.2,426.39 124.71,425.81 125.22,425.06 125.73,425.02 126.23,425.11 126.74,427.05 127.25,424.74 127.76,425.56 128.27,425.89 128.78,426.45 129.29,426.84 129.8,425.38 130.3,425.07 130.81,426.63 131.32,427.76 131.83,427.46 132.34,427.1 132.85,426.74 133.36,427.35 133.87,426.98 134.37,427.98 134.88,426.7 135.39,427.54 135.9,427.36 136.41,427.95 136.92,427.71 137.43,429.72 137.93,428.86 138.44,428.89 138.95,425.92 139.46,427.39 139.97,427.2 140.48,428.2 140.99,425.84 141.5,428.81 142,428.75 142.51,426.77 143.02,427.08 143.53,427.26 144.04,428.01 144.55,428.55 145.06,429.78 145.57,427.9 146.07,428.76 146.58,428.27 147.09,429.66 147.6,428.83" fill="none" stroke="#0000ff" stroke-width="1.5" stroke-linejoin="round" stroke-linecap="round"/>
<polyline points="147.6,428.8 148.9,429.2 149.1,300 149.8,298.8 150.4,312.8 151.5,335.7 152.6,358.5 153.5,372.5 154.4,379.56 154.83,379.55 155.26,379.19 155.69,378.55 156.12,377.68 156.55,376.65 156.98,375.36 157.41,372.85 157.84,369.49 158.27,365.96 158.7,362.94 159.13,360.72 159.56,358.67 159.99,356.74 160.42,354.93 160.85,353.21 161.28,351.56 161.71,349.98 162.14,348.44 162.57,346.93 163,345.43 163.43,343.92 163.86,342.39 164.29,340.84 164.72,339.29 165.16,337.77 165.59,336.26 166.02,334.77 166.45,333.3 166.88,331.85 167.31,330.43 167.74,329.03 168.17,327.66 168.6,326.34 169.03,325.04 169.46,323.81 169.89,322.29 170.32,321.17 170.75,319.76 171.18,318.53 171.61,317.37 172.04,316.2 172.47,315.06 172.9,313.85 173.33,313.11 173.76,311.86 174.19,311.09 174.62,310.58 175.05,309.6 175.48,309.65 175.91,308.79 176.34,308.57 176.77,307.43 177.2,306.82 177.63,306.51 178.06,306.23 178.49,305.33 178.92,305.22 179.35,304.63 179.78,304.85 180.21,303.54 180.64,303.85 181.07,302.74 181.5,302.22 181.93,301.96 182.36,301.36 182.79,301.65 183.22,301.74 183.65,300.96 184.08,300.85 184.51,301 184.94,299.97 185.37,299.59 185.8,299 186.23,297.97 186.67,298.8 187.1,297.19 187.53,298.04 187.96,297.35 188.39,297.57 188.82,296.63 189.25,295.9 189.68,296.16 190.11,295.37 190.54,295.23 190.97,295.02 191.4,294.62 191.83,294.29 192.26,293.68 192.69,293.72 193.12,292.47 193.55,293.2 193.98,292.43 194.41,293.36 194.84,293.22 195.27,291.4 195.7,292.24 196.13,291.91 196.56,291.25 196.99,291.85 197.42,291.17 197.85,290.34 198.28,290.92 198.71,290.81 199.14,290.77 199.57,289.94 200,290.71 200.43,290.62 200.86,289.53 201.29,289.62 201.72,289.77 202.15,289.39 202.58,290.4 203.01,289.5 203.44,288.76 203.87,288.74 204.3,288.98 204.73,290.03 205.16,288.66 205.59,288.69 206.02,288.76 206.45,288.36 206.88,289.4 207.31,287.88 207.74,288.4 208.18,287.99 208.61,288.1 209.04,287.09 209.47,288.45 209.9,287.39 210.33,287.36 210.76,286.77 211.19,286.76 211.62,287.3 212.05,287.41 212.48,287.19 212.91,287.32 213.34,286.98 213.77,286.54 214.2,286.85 214.63,286.64 215.06,286.2 215.49,286.53 215.92,286.73 216.35,286.12 216.78,285.74 217.21,286.21 217.64,286.72 218.07,285.59 218.5,285.58" fill="none" stroke="#ff0000" stroke-width="1.5" stroke-linejoin="round" stroke-linecap="round"/>
<path d="M138 299.7V413.8" stroke="#111" stroke-width="1.3"/>
<path d="M138 289.2L134.8 300.7L141.2 300.7Z" fill="#111"/>
<path d="M138 424.3L134.8 412.8L141.2 412.8Z" fill="#111"/>
<text x="52.4" y="280.8" font-size="11.3" font-weight="bold" fill="#111">FM</text>
<text x="199.8" y="280.8" font-size="11.3" font-weight="bold" fill="#111">FM</text>
<text x="155.4" y="421.6" font-size="14.5" font-weight="bold" fill="#111">PM</text>
<text x="102.9" y="282.4" font-size="13.2" font-weight="bold" fill="#111"><tspan font-weight="normal" stroke-width="0">Δ</tspan><tspan font-style="italic">T</tspan><tspan font-size="9.5" dy="3.8">BCE</tspan><tspan dy="-3.8">= 8 K</tspan></text>
<text transform="translate(108.3 318.0) rotate(78)" font-size="13.8" font-weight="bold" fill="#111">Loading</text>
<text transform="translate(93.0 321.0) rotate(74)" font-size="13.8" font-weight="bold" fill="#111">(0 -1 kbar)</text>
<path d="M88.5 326 L97.2 374" stroke="#111" stroke-width="1.1" stroke-dasharray="5 3.5" fill="none"/>
<path d="M99.5 385.5 L93.5 374.5 L100.2 373.2 Z" fill="#111"/>
<text transform="translate(183.5 375) rotate(-65.5)" font-size="13.3" font-weight="bold" fill="#111">Unloading</text>
<path d="M168.7 363.7 Q174 325 190 313" stroke="#111" stroke-width="1.1" stroke-dasharray="5 3.5" fill="none"/>
<path d="M195 308 L186.5 311.5 L191.8 317 Z" fill="#111"/>
<rect x="45.7" y="267.6" width="173.2" height="182" fill="none" stroke="#262626" stroke-width="1.5"/>
<path d="M45.7 449.6V446.4M77.08 449.6V446.4M108.45 449.6V446.4M139.83 449.6V446.4M171.21 449.6V446.4M202.58 449.6V446.4M61.39 449.6V447.8M92.77 449.6V447.8M124.14 449.6V447.8M155.52 449.6V447.8M186.9 449.6V447.8M218.27 449.6V447.8" stroke="#262626" stroke-width="1.1" fill="none"/>
<text x="43.7" y="461.4" font-size="11.6" text-anchor="middle" fill="#111">0</text>
<text x="75.08" y="461.4" font-size="11.6" text-anchor="middle" fill="#111">50</text>
<text x="106.45" y="461.4" font-size="11.6" text-anchor="middle" fill="#111">100</text>
<text x="137.83" y="461.4" font-size="11.6" text-anchor="middle" fill="#111">150</text>
<text x="169.21" y="461.4" font-size="11.6" text-anchor="middle" fill="#111">200</text>
<text x="200.58" y="461.4" font-size="11.6" text-anchor="middle" fill="#111">250</text>
<path d="M45.7 449.6H48.9M45.7 430.34H48.9M45.7 411.08H48.9M45.7 391.82H48.9M45.7 372.56H48.9M45.7 353.3H48.9M45.7 334.04H48.9M45.7 314.79H48.9M45.7 295.53H48.9M45.7 276.27H48.9M45.7 439.97H47.5M45.7 420.71H47.5M45.7 401.45H47.5M45.7 382.19H47.5M45.7 362.93H47.5M45.7 343.67H47.5M45.7 324.41H47.5M45.7 305.16H47.5M45.7 285.9H47.5" stroke="#262626" stroke-width="1.1" fill="none"/>
<text x="41.4" y="453.5" font-size="11.6" text-anchor="end" fill="#111">281</text>
<text x="41.4" y="434.24" font-size="11.6" text-anchor="end" fill="#111">282</text>
<text x="41.4" y="414.98" font-size="11.6" text-anchor="end" fill="#111">283</text>
<text x="41.4" y="395.72" font-size="11.6" text-anchor="end" fill="#111">284</text>
<text x="41.4" y="376.46" font-size="11.6" text-anchor="end" fill="#111">285</text>
<text x="41.4" y="357.2" font-size="11.6" text-anchor="end" fill="#111">286</text>
<text x="41.4" y="337.94" font-size="11.6" text-anchor="end" fill="#111">287</text>
<text x="41.4" y="318.69" font-size="11.6" text-anchor="end" fill="#111">288</text>
<text x="41.4" y="299.43" font-size="11.6" text-anchor="end" fill="#111">289</text>
<text x="41.4" y="280.17" font-size="11.6" text-anchor="end" fill="#111">290</text>
<text x="125.65" y="477.9" font-size="13.5" text-anchor="middle" fill="#111" textLength="49.6" lengthAdjust="spacingAndGlyphs">Time (s)</text>
<text x="13.3" y="355.3" font-size="13.5" text-anchor="middle" fill="#111" transform="rotate(-90 13.3 355.3)"><tspan font-style="italic">T</tspan> (K)</text>
<polyline points="270.31,318.88 270.52,323.66 270.74,328.26 270.95,331.75 271.17,335.28 271.38,338.6 271.6,340.34 271.82,342.86 272.03,344 272.25,345.49 272.46,346.28 272.68,346.57 272.89,347.55 273.11,348.2 273.32,348.27 273.54,348.51 273.75,349.09 273.97,349.03 274.18,348.92 274.4,349.23 274.62,349.63 274.83,349.38 275.05,349.72 275.26,349.88 275.48,349.57 275.69,349.32 275.91,349.29 276.12,349.58 276.34,349.78 276.55,349.65 276.77,349.72 276.98,349.5 277.2,349.66 277.3,349.66 277.35,288.9 277.65,324.7 277.8,324.6 278,318.61 278.21,313.18 278.41,308.61 278.61,304.95 278.81,301.44 279.02,298.55 279.22,296.38 279.42,294.02 279.62,292.8 279.83,290.72 280.03,288.96 280.23,288.05 280.43,286.89 280.64,285.75 280.84,285.34 281.04,284.24 281.24,283.15 281.45,283.48 281.65,282.72 281.85,282.8 282.05,282 282.26,281.59 282.46,281.94 282.66,281.15 282.86,281.25 283.07,281.36 283.27,280.92 283.47,280.76 283.67,280.7 283.88,280.77 284.08,280.33 284.28,280.57 284.48,280.5 284.69,280.84 284.89,280.21 285.09,280.04 285.29,280.37 285.5,280.1 285.7,280.22 285.7,280 285.75,348.1 285.82,281 285.85,280.03 286.06,283.01 286.27,287.34 286.48,293.09 286.69,298.54 286.9,304.89 287.11,311.19 287.32,316.08 287.53,320.98 287.74,325.24 287.95,329.47 288.16,332.69 288.37,335.2 288.58,337.98 288.79,339.85 289,341.57 289.21,342.57 289.42,344.14 289.63,344.69 289.84,345.23 290.06,345.66 290.27,346.12 290.48,346.67 290.69,346.66 290.9,347.13 291.11,347.16 291.32,347.43 291.53,347.38 291.74,347.25 291.95,346.88 292.16,347.39 292.37,347.52 292.58,347.4 292.79,347.5 293,347.28 293.21,347.3 293.42,347.18 293.63,347.69 293.84,347.43 294.05,347.29 294.1,347.29 294.15,287.4 294.45,324 294.6,323.71 294.81,317.86 295.02,312.94 295.22,308.19 295.43,304.01 295.64,301.11 295.85,298.2 296.05,295.6 296.26,293.39 296.47,291.61 296.68,289.87 296.88,288.53 297.09,287 297.3,286.47 297.51,285.3 297.72,284.93 297.92,283.38 298.13,283.41 298.34,282.98 298.55,282.27 298.75,282.08 298.96,281.83 299.17,281.52 299.38,281.04 299.58,280.93 299.79,281.01 300,280.92 300.21,280.53 300.42,280.41 300.62,280.34 300.83,280.45 301.04,279.91 301.25,279.79 301.45,280.06 301.66,279.74 301.87,279.82 302.08,279.93 302.28,279.99 302.49,279.62 302.7,280.01 302.7,279.7 302.75,347.8 302.82,280.7 302.85,279.31 303.09,283.06 303.32,288.13 303.56,294.66 303.79,301.81 304.03,308.17 304.27,314.26 304.5,319.93 304.74,325.07 304.97,329.23 305.21,332.84 305.44,336.09 305.68,338.15 305.92,340.19 306.15,341.76 306.39,343.37 306.62,344.29 306.86,345.09 307.1,345.36 307.33,345.75 307.57,346.28 307.8,346.24 308.04,346.68 308.28,346.77 308.51,346.55 308.75,346.74 308.98,346.78 309.22,347.22 309.46,347.43 309.69,346.85 309.93,346.88 310.16,346.38 310.4,346.94 310.63,346.89 310.87,346.66 311.11,347.07 311.34,346.55 311.58,346.85 311.81,346.93 312.05,346.62 312.1,346.62 312.15,285.9 312.45,322.9 312.6,323.09 312.82,317.28 313.04,311.73 313.25,307.44 313.47,304.21 313.69,300.93 313.91,297.99 314.13,295.89 314.34,293.96 314.56,292.27 314.78,291.04 315,289.71 315.22,288.96 315.43,287.97 315.65,287.04 315.87,286.47 316.09,285.95 316.31,285.33 316.52,284.49 316.74,284.6 316.96,284.12 317.18,284.2 317.39,283.64 317.61,283.55 317.83,283.34 318.05,283.5 318.27,283.05 318.48,282.85 318.7,282.89 318.92,282.65 319.14,282.72 319.36,282.62 319.57,282.64 319.79,282.96 320.01,282.41 320.23,282.48 320.45,282.41 320.66,282.58 320.88,282.15 321.1,282.24 321.1,282.3 321.15,346.2 321.22,283.3 321.25,282.29 321.5,285.74 321.75,291.25 322,297.67 322.24,304.32 322.49,311.12 322.74,317.33 322.99,322.46 323.24,327.09 323.49,331.11 323.74,334.09 323.99,336.91 324.23,339.07 324.48,340.9 324.73,342.15 324.98,342.9 325.23,344.18 325.48,344.88 325.73,344.88 325.98,345.33 326.22,345.53 326.47,345.81 326.72,345.42 326.97,346.18 327.22,345.78 327.47,346.2 327.72,345.97 327.97,345.88 328.21,345.95 328.46,346.18 328.71,345.8 328.96,345.91 329.21,345.89 329.46,345.62 329.71,346.28 329.96,346.13 330.2,345.99 330.45,346.26 330.7,345.79 330.95,345.98 331,345.98 331.05,285.9 331.35,324.7 331.5,325.08 331.73,317.75 331.97,310.97 332.2,305.59 332.43,301.75 332.67,298.53 332.9,295.08 333.13,292.49 333.37,290.44 333.6,288.23 333.83,286.87 334.07,285.64 334.3,284.42 334.53,283.44 334.77,282.4 335,281.95 335.23,281.15 335.47,281.03 335.7,280.89 335.93,279.81 336.17,279.19 336.4,279.32 336.63,279.28 336.87,279.24 337.1,279.09 337.33,278.55 337.57,278.44 337.8,278.8 338.03,278.2 338.27,278.61 338.5,278.26 338.73,278.43 338.97,278.38 339.2,278.36 339.43,278.34 339.67,277.92 339.9,278.18 340.13,278.1 340.37,278.15 340.6,278.34 340.6,278 340.65,343.5 340.72,279 340.75,277.94 341.06,282.55 341.38,290.27 341.69,298.91 342,307.48 342.31,314.67 342.63,321.58 342.94,326.73 343.25,330.87 343.57,333.91 343.88,336.73 344.19,338.65 344.5,339.42 344.82,340.99 345.13,341.73 345.44,341.87 345.76,342.2 346.07,342.81 346.38,342.67 346.69,342.28 347.01,342.52 347.32,342.52 347.63,342.54 347.94,342.06 348.26,342.76 348.57,342.45 348.88,342.63 349.2,342.57 349.51,342.79 349.82,342.53 350.13,342.42 350.45,342.72 350.76,342.91 351.07,342.53 351.39,342.9 351.7,342.66 352.01,342.48 352.32,342.94 352.64,342.42 352.95,342.82 353,342.82 353.05,283 353.35,321.5 353.5,321.39 353.75,314.68 354.01,308.54 354.26,303.82 354.52,300.23 354.77,296.68 355.02,293.86 355.28,291.42 355.53,289.67 355.78,287.65 356.04,286.36 356.29,285.44 356.55,284.35 356.8,283.59 357.05,283.08 357.31,282.52 357.56,282.04 357.82,282.08 358.07,281.62 358.32,281.4 358.58,280.9 358.83,280.61 359.08,280.25 359.34,280.37 359.59,279.88 359.85,280.12 360.1,280.34 360.35,280.47 360.61,280.27 360.86,279.83 361.12,280.09 361.37,279.78 361.62,280.11 361.88,279.88 362.13,280.08 362.38,280.44 362.64,280.06 362.89,280.36 363.15,279.88 363.4,279.76 363.4,279.8 363.45,345.8 363.52,280.8 363.55,280.09 363.81,283.72 364.06,289.21 364.32,296.25 364.58,302.98 364.83,310.04 365.09,316.49 365.34,321.78 365.6,326.4 365.86,330.19 366.11,333.85 366.37,336.58 366.63,338.62 366.88,340.17 367.14,341.08 367.4,342.69 367.65,342.99 367.91,343.49 368.17,344.06 368.42,343.7 368.68,344.35 368.93,344.48 369.19,344.68 369.45,344.96 369.7,344.81 369.96,344.34 370.22,344.69 370.47,344.82 370.73,344.82 370.99,344.51 371.24,344.43 371.5,344.92 371.76,344.87 372.01,344.79 372.27,344.42 372.52,345.19 372.78,344.16 373.04,344.72 373.29,345.26 373.55,344.77 373.6,344.77 373.65,284.7 373.95,320.2 374.1,320.25 374.35,313.3 374.6,308.31 374.85,303.09 375.11,299.56 375.36,296.3 375.61,293.33 375.86,291.5 376.11,289.1 376.36,287.68 376.61,286.51 376.86,285.32 377.12,284.59 377.37,283.92 377.62,283.01 377.87,282.42 378.12,281.97 378.37,281.63 378.62,281.58 378.87,281.09 379.13,281 379.38,280.71 379.63,280.39 379.88,280.64 380.13,280.12 380.38,280.26 380.63,280.51 380.88,279.88 381.14,280.05 381.39,279.67 381.64,279.87 381.89,279.63 382.14,279.85 382.39,279.79 382.64,279.92 382.89,280.22 383.15,279.93 383.4,280 383.65,279.83 383.9,279.78 383.9,279.8 383.95,344 384.02,280.8 384.05,279.62 384.33,283.19 384.6,289.94 384.88,297.48 385.16,304.47 385.43,311.06 385.71,317.64 385.99,322.45 386.27,326.82 386.54,330.28 386.82,333.2 387.1,335.6 387.37,337.8 387.65,338.61 387.93,339.38 388.2,340.16 388.48,340.75 388.76,340.77 389.03,341.42 389.31,341.72 389.59,341.75 389.87,341.89 390.14,341.52 390.42,341.47 390.7,342.14 390.97,342.12 391.25,341.55 391.53,341.94 391.8,341.9 392.08,342.02 392.36,341.94 392.63,341.79 392.91,341.94 393.19,341.93 393.47,341.89 393.74,341.49 394.02,341.24 394.3,341.73 394.57,341.54 394.85,341.96 394.9,341.96 394.95,283.7 395.25,318.2 395.4,318.36 395.63,313.42 395.85,309.16 396.08,305.76 396.3,303.01 396.53,300.06 396.75,298.26 396.98,296.37 397.21,294.71 397.43,293.64 397.66,292.03 397.88,291.43 398.11,290.19 398.33,289.53 398.56,288.87 398.78,288.7 399.01,287.96 399.24,287.81 399.46,287.24 399.69,287.45 399.91,287.4 400.14,286.85 400.36,287 400.59,286.62 400.82,286.86 401.04,286.3 401.27,285.85 401.49,286.45 401.72,286.03 401.94,285.78 402.17,285.81 402.39,285.56 402.62,285.85 402.85,285.62 403.07,286.16 403.3,285.96 403.52,285.43 403.75,285.45 403.97,285.65 404.2,285.34 404.2,285.7 404.25,346.8 404.32,286.7 404.35,285.68 404.6,288.62 404.84,293.44 405.09,299.27 405.33,305.47 405.58,311.45 405.83,316.83 406.07,321.31 406.32,325.68 406.57,328.9 406.81,332.12 407.06,334.26 407.3,336.59 407.55,337.71 407.8,338.99 408.04,340.13 408.29,340.97 408.53,341.07 408.78,341.67 409.03,342.11 409.27,342.34 409.52,342.26 409.77,342.57 410.01,342.57 410.26,342.99 410.5,342.84 410.75,342.46 411,342.28 411.24,342.8 411.49,343.04 411.73,342.83 411.98,342.99 412.23,342.69 412.47,342.5 412.72,342.96 412.97,342.82 413.21,342.95 413.46,342.5 413.7,342.84 413.95,342.66 414,342.66 414.05,284.7 414.35,328 414.5,328.18 414.77,320.64 415.03,314.66 415.3,309.72 415.57,306.04 415.83,302.4 416.1,299.43 416.37,297.07 416.63,295.16 416.9,294.13 417.17,292.11 417.43,291.24 417.7,290.68 417.97,290.06 418.23,289.16 418.5,288.87 418.77,288.45 419.03,288.15 419.3,287.66 419.57,287.78 419.83,287.27 420.1,287.4 420.37,286.69 420.63,287.03 420.9,286.46 421.17,286.33 421.43,286.71 421.7,286.37 421.97,286.61 422.23,286.24 422.5,286.8 422.77,286.42 423.03,286.15 423.3,286.43 423.57,286.57 423.83,286.19 424.1,286.47 424.37,286.8 424.63,286.53 424.9,286.33 424.9,286.3 424.95,337 425.02,287.3 425.05,286.19 425.35,290 425.64,295.43 425.94,301.7 426.24,308.74 426.54,314.64 426.83,320.51 427.13,324.58 427.43,327.92 427.73,330.73 428.02,333.29 428.32,334.65 428.62,335.93 428.92,336.92 429.21,337.59 429.51,338.04 429.81,338.35 430.11,338.81 430.4,339.04 430.7,338.39 431,339.38 431.3,338.88 431.59,339.15 431.89,338.73 432.19,338.97 432.49,338.95 432.78,338.94 433.08,339.1 433.38,339.05 433.68,338.69 433.97,338.89 434.27,339.08 434.57,339.07 434.87,338.84 435.16,338.85 435.46,338.88 435.76,338.67 436.06,338.63 436.35,339.26 436.65,338.83 436.7,338.83 436.75,281.8 437.05,316.2 437.2,316.24 437.34,313.21 437.49,311.09 437.63,308.87 437.77,306.34 437.92,304.61 438.06,302.63 438.21,301.65 438.35,300.07 438.49,298.43 438.64,297.76 438.78,296.55 438.92,295.64 439.07,294.79 439.21,293.82 439.35,293.17 439.5,292.81 439.64,292.11 439.78,291.42 439.93,291.62 440.07,290.72 440.22,290.28 440.36,289.92 440.5,289.93 440.65,289.72 440.79,289.32 440.93,289.24 441.08,288.52 441.22,288.59 441.36,288.4 441.51,288.36 441.65,288.34 441.79,287.66 441.94,288.69 442.08,287.72 442.23,287.9 442.37,287.92 442.51,287.86 442.66,287.66 442.8,286.91" fill="none" stroke="#111" stroke-width="1.4" stroke-linejoin="round" stroke-linecap="round"/>
<rect x="276.6" y="365.8" width="4.6" height="4.6" fill="#0000ff"/>
<rect x="293.7" y="366.4" width="4.6" height="4.6" fill="#0000ff"/>
<rect x="311.8" y="368.5" width="4.6" height="4.6" fill="#0000ff"/>
<rect x="331" y="366.4" width="4.6" height="4.6" fill="#0000ff"/>
<rect x="353.3" y="369" width="4.6" height="4.6" fill="#0000ff"/>
<rect x="373.8" y="368.7" width="4.6" height="4.6" fill="#0000ff"/>
<rect x="394.6" y="372.7" width="4.6" height="4.6" fill="#0000ff"/>
<rect x="414.3" y="372.4" width="4.6" height="4.6" fill="#0000ff"/>
<circle cx="287.2" cy="438" r="2.55" fill="#ff0000"/>
<circle cx="304.7" cy="437.4" r="2.55" fill="#ff0000"/>
<circle cx="323.4" cy="435.9" r="2.55" fill="#ff0000"/>
<circle cx="344.7" cy="437" r="2.55" fill="#ff0000"/>
<circle cx="366" cy="435.9" r="2.55" fill="#ff0000"/>
<circle cx="386.4" cy="435.4" r="2.55" fill="#ff0000"/>
<circle cx="406.6" cy="432.1" r="2.55" fill="#ff0000"/>
<circle cx="427.3" cy="430.7" r="2.55" fill="#ff0000"/>
<path d="M269.8 403.25H443.1" stroke="#222" stroke-width="1.2" stroke-dasharray="6.5 3.5"/>
<text x="357" y="398.4" font-size="11.3" font-weight="bold" text-anchor="middle" fill="#111">Loading</text>
<text x="358.3" y="416.6" font-size="11.3" font-weight="bold" text-anchor="middle" fill="#111">Unloading</text>
<rect x="269.8" y="267.3" width="173.3" height="181.6" fill="none" stroke="#262626" stroke-width="1.5"/>
<path d="M269.8 357.6H443.1" stroke="#262626" stroke-width="1.3"/>
<path d="M304.46 357.6V354.4M304.46 357.6V360.8M339.12 357.6V354.4M339.12 357.6V360.8M373.78 357.6V354.4M373.78 357.6V360.8M408.44 357.6V354.4M408.44 357.6V360.8M287.13 357.6V355.8M287.13 357.6V359.4M321.79 357.6V355.8M321.79 357.6V359.4M356.45 357.6V355.8M356.45 357.6V359.4M391.11 357.6V355.8M391.11 357.6V359.4M425.77 357.6V355.8M425.77 357.6V359.4" stroke="#262626" stroke-width="1.1" fill="none"/>
<path d="M269.8 448.9V445.7M304.46 448.9V445.7M339.12 448.9V445.7M373.78 448.9V445.7M408.44 448.9V445.7M443.1 448.9V445.7M287.13 448.9V447.1M321.79 448.9V447.1M356.45 448.9V447.1M391.11 448.9V447.1M425.77 448.9V447.1" stroke="#262626" stroke-width="1.1" fill="none"/>
<text x="269.8" y="461.4" font-size="11.6" text-anchor="middle" fill="#111">0</text>
<text x="304.46" y="461.4" font-size="11.6" text-anchor="middle" fill="#111">500</text>
<text x="339.12" y="461.4" font-size="11.6" text-anchor="middle" fill="#111">1000</text>
<text x="373.78" y="461.4" font-size="11.6" text-anchor="middle" fill="#111">1500</text>
<text x="408.44" y="461.4" font-size="11.6" text-anchor="middle" fill="#111">2000</text>
<text x="443.1" y="461.4" font-size="11.6" text-anchor="middle" fill="#111">2500</text>
<path d="M269.8 348.57H273M269.8 330.51H273M269.8 312.45H273M269.8 294.39H273M269.8 276.33H273M269.8 339.54H271.6M269.8 321.48H271.6M269.8 303.42H271.6M269.8 285.36H271.6" stroke="#262626" stroke-width="1.1" fill="none"/>
<text x="265.5" y="352.47" font-size="11.6" text-anchor="end" fill="#111">282</text>
<text x="265.5" y="334.41" font-size="11.6" text-anchor="end" fill="#111">284</text>
<text x="265.5" y="316.35" font-size="11.6" text-anchor="end" fill="#111">286</text>
<text x="265.5" y="298.29" font-size="11.6" text-anchor="end" fill="#111">288</text>
<text x="265.5" y="280.23" font-size="11.6" text-anchor="end" fill="#111">290</text>
<path d="M269.8 439.77H273M269.8 421.51H273M269.8 403.25H273M269.8 384.99H273M269.8 366.73H273M269.8 430.64H271.6M269.8 412.38H271.6M269.8 394.12H271.6M269.8 375.86H271.6" stroke="#262626" stroke-width="1.1" fill="none"/>
<text x="265.5" y="443.67" font-size="11.6" text-anchor="end" fill="#111">−8</text>
<text x="265.5" y="425.41" font-size="11.6" text-anchor="end" fill="#111">−4</text>
<text x="265.5" y="407.15" font-size="11.6" text-anchor="end" fill="#111">0</text>
<text x="265.5" y="388.89" font-size="11.6" text-anchor="end" fill="#111">4</text>
<text x="265.5" y="370.63" font-size="11.6" text-anchor="end" fill="#111">8</text>
<text x="357.2" y="478.6" font-size="13.5" text-anchor="middle" fill="#111" textLength="49.3" lengthAdjust="spacingAndGlyphs">Time (s)</text>
<text x="240.4" y="314.4" font-size="13.5" text-anchor="middle" fill="#111" transform="rotate(-90 240.4 314.4)"><tspan font-style="italic">T</tspan> (K)</text>
<text transform="translate(242.6 403.1) rotate(-90)" font-size="13.5" text-anchor="middle" fill="#111">−Δ<tspan font-style="italic">T</tspan><tspan font-size="9.6" dy="3.6">BCE</tspan><tspan dy="-3.6"> (K)</tspan></text>
<polyline points="502.3,430.67 502.65,430.61 502.99,430.54 503.34,430.47 503.69,430.41 504.04,430.34 504.38,430.28 504.73,430.21 505.08,430.14 505.42,430.08 505.77,430.01 506.12,429.94 506.47,429.88 506.81,429.81 507.16,429.75 507.51,429.68 507.85,429.61 508.2,429.55 508.55,429.48 508.89,429.41 509.24,429.35 509.59,429.28 509.94,429.22 510.28,429.15 510.63,429.08 510.98,429.02 511.32,428.95 511.67,428.88 512.02,428.82 512.37,428.75 512.71,428.69 513.06,428.62 513.41,428.55 513.75,428.49 514.1,428.42 514.45,428.35 514.8,428.29 515.14,428.22 515.49,428.16 515.84,428.09 516.18,428.02 516.53,427.96 516.88,427.89 517.23,427.82 517.57,427.76 517.92,427.69 518.27,427.63 518.61,427.56 518.96,427.49 519.31,427.43 519.65,427.36 520,427.29 520.35,427.23 520.7,427.16 521.04,427.1 521.39,427.03 521.74,426.96 522.08,426.9 522.43,426.83 522.78,426.77 523.13,426.7 523.47,426.63 523.82,426.57 524.17,426.5 524.51,426.43 524.86,426.37 525.21,426.3 525.56,426.24 525.9,426.17 526.25,426.1 526.6,426.04 526.94,425.97 527.29,425.9 527.64,425.84 527.98,425.77 528.33,425.71 528.68,425.64 529.03,425.58 529.37,425.52 529.72,425.45 530.07,425.39 530.41,425.33 530.76,425.26 531.11,425.2 531.46,425.14 531.8,425.08 532.15,425.02 532.5,424.95 532.84,424.89 533.19,424.83 533.54,424.77 533.89,424.71 534.23,424.65 534.58,424.59 534.93,424.53 535.27,424.47 535.62,424.41 535.97,424.34 536.32,424.28 536.66,424.22 537.01,424.16 537.36,424.1 537.7,424.04 538.05,423.98 538.4,423.92 538.74,423.85 539.09,423.79 539.44,423.73 539.79,423.67 540.13,423.61 540.48,423.54 540.83,423.48 541.17,423.42 541.52,423.35 541.87,423.29 542.22,423.22 542.56,423.16 542.91,423.09 543.26,423.03 543.6,422.96 543.95,422.9 544.3,422.83 544.65,422.76 544.99,422.69 545.34,422.62 545.69,422.56 546.03,422.49 546.38,422.42 546.73,422.34 547.08,422.27 547.42,422.2 547.77,422.13 548.12,422.05 548.46,421.98 548.81,421.91 549.16,421.83 549.5,421.75 549.85,421.68 550.2,421.6 550.55,421.52 550.89,421.44 551.24,421.36 551.59,421.28 551.93,421.2 552.28,421.11 552.63,421.03 552.98,420.95 553.32,420.86 553.67,420.78 554.02,420.7 554.36,420.61 554.71,420.53 555.06,420.44 555.41,420.35 555.75,420.26 556.1,420.17 556.45,420.08 556.79,419.99 557.14,419.9 557.49,419.8 557.84,419.71 558.18,419.61 558.53,419.51 558.88,419.41 559.22,419.31 559.57,419.2 559.92,419.1 560.26,418.99 560.61,418.87 560.96,418.76 561.31,418.64 561.65,418.52 562,418.4 562.35,418.28 562.69,418.15 563.04,418.02 563.39,417.89 563.74,417.75 564.08,417.61 564.43,417.47 564.78,417.33 565.12,417.18 565.47,417.03 565.82,416.87 566.17,416.72 566.51,416.55 566.86,416.38 567.21,416.21 567.55,416.03 567.9,415.84 568.25,415.65 568.59,415.45 568.94,415.24 569.29,415.02 569.64,414.8 569.98,414.56 570.33,414.31 570.68,414.06 571.02,413.79 571.37,413.51 571.72,413.22 572.07,412.92 572.41,412.6 572.76,412.27 573.11,411.91 573.45,411.49 573.8,411.01 574.15,410.48 574.5,409.9 574.84,409.27 575.19,408.61 575.54,407.92 575.88,407.19 576.23,406.45 576.58,405.68 576.93,404.9 577.27,404.12 577.62,403.32 577.97,402.5 578.31,401.55 578.66,400.5 579.01,399.41 579.35,398.34 579.7,397.36 580.05,396.51 580.4,395.83 580.74,395.14 581.09,394.53 581.44,394.1 581.78,393.98 582.13,394.1 582.48,394.36 582.83,394.72 583.17,395.14 583.52,395.56 583.87,396.08 584.21,396.74 584.56,397.48 584.91,398.29 585.26,399.11 585.6,399.92 585.95,400.67 586.3,401.41 586.64,402.2 586.99,403.01 587.34,403.84 587.69,404.66 588.03,405.47 588.38,406.25 588.73,406.99 589.07,407.66 589.42,408.26 589.77,408.78 590.11,409.19 590.46,409.53 590.81,409.86 591.16,410.16 591.5,410.46 591.85,410.73 592.2,411 592.54,411.25 592.89,411.48 593.24,411.71 593.59,411.92 593.93,412.12 594.28,412.32 594.63,412.5 594.97,412.68 595.32,412.85 595.67,413.01 596.02,413.17 596.36,413.32 596.71,413.47 597.06,413.61 597.4,413.76 597.75,413.9 598.1,414.03 598.45,414.17 598.79,414.3 599.14,414.43 599.49,414.55 599.83,414.68 600.18,414.8 600.53,414.92 600.87,415.03 601.22,415.15 601.57,415.26 601.92,415.37 602.26,415.47 602.61,415.58 602.96,415.68 603.3,415.78 603.65,415.87 604,415.97 604.35,416.06 604.69,416.15 605.04,416.24 605.39,416.33 605.73,416.41 606.08,416.5 606.43,416.58 606.78,416.65 607.12,416.73 607.47,416.81 607.82,416.88 608.16,416.95 608.51,417.02 608.86,417.09 609.21,417.16 609.55,417.22 609.9,417.29 610.25,417.35 610.59,417.41 610.94,417.47 611.29,417.53 611.63,417.59 611.98,417.65 612.33,417.71 612.68,417.76 613.02,417.82 613.37,417.87 613.72,417.92 614.06,417.98 614.41,418.03 614.76,418.08 615.11,418.13 615.45,418.18 615.8,418.23 616.15,418.28 616.49,418.33 616.84,418.37 617.19,418.42 617.54,418.46 617.88,418.51 618.23,418.55 618.58,418.6 618.92,418.64 619.27,418.69 619.62,418.73 619.96,418.77 620.31,418.81 620.66,418.85 621.01,418.89 621.35,418.94 621.7,418.98 622.05,419.02 622.39,419.06 622.74,419.1 623.09,419.13 623.44,419.17 623.78,419.21 624.13,419.25 624.48,419.29 624.82,419.33 625.17,419.37 625.52,419.4 625.87,419.44 626.21,419.48 626.56,419.52 626.91,419.56 627.25,419.6 627.6,419.63 627.95,419.67 628.3,419.71 628.64,419.75 628.99,419.79 629.34,419.82 629.68,419.86 630.03,419.9 630.38,419.94 630.72,419.97 631.07,420.01 631.42,420.05 631.77,420.09 632.11,420.12 632.46,420.16 632.81,420.2 633.15,420.23 633.5,420.27 633.85,420.31 634.2,420.34 634.54,420.38 634.89,420.41 635.24,420.45 635.58,420.48 635.93,420.52 636.28,420.56 636.63,420.59 636.97,420.62 637.32,420.66 637.67,420.69 638.01,420.73 638.36,420.76 638.71,420.79 639.06,420.83 639.4,420.86 639.75,420.89 640.1,420.93 640.44,420.96 640.79,420.99 641.14,421.02 641.48,421.05 641.83,421.08 642.18,421.12 642.53,421.15 642.87,421.18 643.22,421.21 643.57,421.24 643.91,421.26 644.26,421.29 644.61,421.32 644.96,421.35 645.3,421.38 645.65,421.41 646,421.43 646.34,421.46 646.69,421.49 647.04,421.51 647.39,421.54 647.73,421.56 648.08,421.59 648.43,421.61 648.77,421.63 649.12,421.66 649.47,421.68 649.82,421.7 650.16,421.73 650.51,421.75 650.86,421.77 651.2,421.79 651.55,421.81 651.9,421.83 652.24,421.85 652.59,421.87 652.94,421.88 653.29,421.9 653.63,421.92 653.98,421.94 654.33,421.96 654.67,421.98 655.02,421.99 655.37,422.01 655.72,422.03 656.06,422.05 656.41,422.06 656.76,422.08 657.1,422.1 657.45,422.12 657.8,422.13 658.15,422.15 658.49,422.17 658.84,422.18 659.19,422.2 659.53,422.22 659.88,422.23 660.23,422.25 660.57,422.26 660.92,422.28 661.27,422.29 661.62,422.31 661.96,422.33 662.31,422.34 662.66,422.35 663,422.37 663.35,422.38 663.7,422.4 664.05,422.41 664.39,422.43 664.74,422.44 665.09,422.45 665.43,422.47 665.78,422.48 666.13,422.49 666.48,422.5 666.82,422.52 667.17,422.53 667.52,422.54 667.86,422.55 668.21,422.56 668.56,422.57 668.91,422.59 669.25,422.6 669.6,422.61 669.95,422.62 670.29,422.63 670.64,422.63 670.99,422.64 671.33,422.65 671.68,422.66 672.03,422.67 672.38,422.68 672.72,422.68 673.07,422.69 673.42,422.7 673.76,422.71 674.11,422.71 674.46,422.72 674.81,422.72 675.15,422.73 675.5,422.73" fill="none" stroke="#1f8a1f" stroke-width="1.4" stroke-linejoin="round" stroke-linecap="round"/>
<polyline points="502.3,418.87 502.65,418.76 502.99,418.65 503.34,418.54 503.69,418.43 504.04,418.32 504.38,418.21 504.73,418.1 505.08,417.99 505.42,417.88 505.77,417.77 506.12,417.66 506.47,417.54 506.81,417.43 507.16,417.32 507.51,417.21 507.85,417.09 508.2,416.98 508.55,416.86 508.89,416.75 509.24,416.63 509.59,416.52 509.94,416.4 510.28,416.29 510.63,416.17 510.98,416.05 511.32,415.94 511.67,415.82 512.02,415.7 512.37,415.58 512.71,415.47 513.06,415.35 513.41,415.23 513.75,415.11 514.1,414.99 514.45,414.87 514.8,414.75 515.14,414.63 515.49,414.51 515.84,414.39 516.18,414.27 516.53,414.15 516.88,414.02 517.23,413.9 517.57,413.78 517.92,413.66 518.27,413.53 518.61,413.41 518.96,413.29 519.31,413.16 519.65,413.04 520,412.91 520.35,412.79 520.7,412.66 521.04,412.53 521.39,412.41 521.74,412.28 522.08,412.15 522.43,412.03 522.78,411.9 523.13,411.77 523.47,411.64 523.82,411.51 524.17,411.38 524.51,411.25 524.86,411.12 525.21,410.99 525.56,410.86 525.9,410.72 526.25,410.59 526.6,410.46 526.94,410.32 527.29,410.19 527.64,410.06 527.98,409.92 528.33,409.79 528.68,409.65 529.03,409.52 529.37,409.38 529.72,409.24 530.07,409.11 530.41,408.97 530.76,408.83 531.11,408.7 531.46,408.56 531.8,408.42 532.15,408.28 532.5,408.14 532.84,408 533.19,407.86 533.54,407.72 533.89,407.58 534.23,407.44 534.58,407.3 534.93,407.16 535.27,407.02 535.62,406.87 535.97,406.73 536.32,406.59 536.66,406.44 537.01,406.3 537.36,406.15 537.7,406.01 538.05,405.86 538.4,405.71 538.74,405.56 539.09,405.42 539.44,405.27 539.79,405.12 540.13,404.97 540.48,404.82 540.83,404.66 541.17,404.51 541.52,404.36 541.87,404.21 542.22,404.05 542.56,403.9 542.91,403.74 543.26,403.58 543.6,403.43 543.95,403.27 544.3,403.11 544.65,402.96 544.99,402.8 545.34,402.64 545.69,402.49 546.03,402.33 546.38,402.17 546.73,402.02 547.08,401.86 547.42,401.7 547.77,401.54 548.12,401.38 548.46,401.22 548.81,401.06 549.16,400.9 549.5,400.74 549.85,400.58 550.2,400.41 550.55,400.25 550.89,400.08 551.24,399.91 551.59,399.74 551.93,399.57 552.28,399.4 552.63,399.23 552.98,399.05 553.32,398.87 553.67,398.69 554.02,398.51 554.36,398.33 554.71,398.14 555.06,397.95 555.41,397.76 555.75,397.57 556.1,397.38 556.45,397.18 556.79,396.98 557.14,396.77 557.49,396.57 557.84,396.36 558.18,396.15 558.53,395.93 558.88,395.71 559.22,395.49 559.57,395.26 559.92,395.04 560.26,394.8 560.61,394.56 560.96,394.32 561.31,394.08 561.65,393.83 562,393.57 562.35,393.31 562.69,393.05 563.04,392.78 563.39,392.51 563.74,392.23 564.08,391.95 564.43,391.66 564.78,391.36 565.12,391.06 565.47,390.75 565.82,390.44 566.17,390.12 566.51,389.8 566.86,389.47 567.21,389.14 567.55,388.81 567.9,388.47 568.25,388.13 568.59,387.78 568.94,387.42 569.29,387.05 569.64,386.66 569.98,386.26 570.33,385.85 570.68,385.41 571.02,384.95 571.37,384.47 571.72,383.96 572.07,383.43 572.41,382.87 572.76,382.28 573.11,381.64 573.45,380.94 573.8,380.16 574.15,379.33 574.5,378.42 574.84,377.44 575.19,376.4 575.54,375.29 575.88,374.1 576.23,372.85 576.58,371.53 576.93,370.14 577.27,368.53 577.62,366.42 577.97,363.99 578.31,361.46 578.66,359.03 579.01,356.94 579.35,355.35 579.7,353.96 580.05,352.65 580.4,351.46 580.74,350.42 581.09,349.58 581.44,348.97 581.78,348.52 582.13,348.12 582.48,347.81 582.83,347.64 583.17,347.65 583.52,347.79 583.87,348.03 584.21,348.34 584.56,348.69 584.91,349.06 585.26,349.41 585.6,349.79 585.95,350.21 586.3,350.68 586.64,351.18 586.99,351.7 587.34,352.24 587.69,352.8 588.03,353.35 588.38,353.91 588.73,354.45 589.07,354.97 589.42,355.49 589.77,356.02 590.11,356.56 590.46,357.09 590.81,357.63 591.16,358.18 591.5,358.73 591.85,359.28 592.2,359.83 592.54,360.39 592.89,360.97 593.24,361.57 593.59,362.21 593.93,362.85 594.28,363.51 594.63,364.17 594.97,364.82 595.32,365.46 595.67,366.07 596.02,366.66 596.36,367.21 596.71,367.71 597.06,368.15 597.4,368.54 597.75,368.89 598.1,369.23 598.45,369.54 598.79,369.85 599.14,370.13 599.49,370.41 599.83,370.67 600.18,370.92 600.53,371.17 600.87,371.41 601.22,371.64 601.57,371.86 601.92,372.09 602.26,372.31 602.61,372.53 602.96,372.76 603.3,372.98 603.65,373.21 604,373.43 604.35,373.65 604.69,373.86 605.04,374.07 605.39,374.28 605.73,374.49 606.08,374.69 606.43,374.89 606.78,375.08 607.12,375.27 607.47,375.47 607.82,375.65 608.16,375.84 608.51,376.03 608.86,376.21 609.21,376.39 609.55,376.57 609.9,376.75 610.25,376.92 610.59,377.1 610.94,377.28 611.29,377.45 611.63,377.62 611.98,377.79 612.33,377.96 612.68,378.13 613.02,378.3 613.37,378.46 613.72,378.63 614.06,378.79 614.41,378.95 614.76,379.11 615.11,379.27 615.45,379.43 615.8,379.59 616.15,379.75 616.49,379.9 616.84,380.06 617.19,380.21 617.54,380.36 617.88,380.51 618.23,380.66 618.58,380.81 618.92,380.96 619.27,381.11 619.62,381.25 619.96,381.4 620.31,381.54 620.66,381.68 621.01,381.82 621.35,381.96 621.7,382.1 622.05,382.24 622.39,382.37 622.74,382.51 623.09,382.64 623.44,382.77 623.78,382.9 624.13,383.03 624.48,383.16 624.82,383.29 625.17,383.42 625.52,383.54 625.87,383.67 626.21,383.79 626.56,383.91 626.91,384.04 627.25,384.16 627.6,384.28 627.95,384.4 628.3,384.52 628.64,384.64 628.99,384.76 629.34,384.88 629.68,385 630.03,385.12 630.38,385.24 630.72,385.36 631.07,385.48 631.42,385.59 631.77,385.71 632.11,385.83 632.46,385.95 632.81,386.07 633.15,386.19 633.5,386.31 633.85,386.43 634.2,386.55 634.54,386.67 634.89,386.79 635.24,386.92 635.58,387.04 635.93,387.16 636.28,387.29 636.63,387.41 636.97,387.54 637.32,387.67 637.67,387.79 638.01,387.92 638.36,388.05 638.71,388.18 639.06,388.31 639.4,388.45 639.75,388.58 640.1,388.71 640.44,388.85 640.79,388.98 641.14,389.12 641.48,389.25 641.83,389.39 642.18,389.52 642.53,389.66 642.87,389.79 643.22,389.93 643.57,390.07 643.91,390.21 644.26,390.34 644.61,390.48 644.96,390.62 645.3,390.76 645.65,390.9 646,391.03 646.34,391.17 646.69,391.31 647.04,391.45 647.39,391.59 647.73,391.73 648.08,391.87 648.43,392 648.77,392.14 649.12,392.28 649.47,392.42 649.82,392.56 650.16,392.69 650.51,392.83 650.86,392.97 651.2,393.1 651.55,393.24 651.9,393.38 652.24,393.51 652.59,393.65 652.94,393.78 653.29,393.92 653.63,394.05 653.98,394.18 654.33,394.32 654.67,394.45 655.02,394.58 655.37,394.71 655.72,394.84 656.06,394.97 656.41,395.1 656.76,395.23 657.1,395.36 657.45,395.49 657.8,395.62 658.15,395.74 658.49,395.87 658.84,396 659.19,396.13 659.53,396.26 659.88,396.38 660.23,396.51 660.57,396.64 660.92,396.77 661.27,396.89 661.62,397.02 661.96,397.15 662.31,397.27 662.66,397.4 663,397.52 663.35,397.65 663.7,397.78 664.05,397.9 664.39,398.03 664.74,398.15 665.09,398.28 665.43,398.4 665.78,398.52 666.13,398.65 666.48,398.77 666.82,398.9 667.17,399.02 667.52,399.14 667.86,399.27 668.21,399.39 668.56,399.51 668.91,399.63 669.25,399.76 669.6,399.88 669.95,400 670.29,400.12 670.64,400.24 670.99,400.36 671.33,400.48 671.68,400.61 672.03,400.73 672.38,400.85 672.72,400.97 673.07,401.09 673.42,401.21 673.76,401.32 674.11,401.44 674.46,401.56 674.81,401.68 675.15,401.8 675.5,401.92" fill="none" stroke="#ff0000" stroke-width="1.4" stroke-linejoin="round" stroke-linecap="round"/>
<polyline points="502.3,416.3 502.65,416.17 502.99,416.04 503.34,415.91 503.69,415.78 504.04,415.65 504.38,415.52 504.73,415.38 505.08,415.25 505.42,415.12 505.77,414.99 506.12,414.86 506.47,414.73 506.81,414.6 507.16,414.47 507.51,414.33 507.85,414.2 508.2,414.07 508.55,413.94 508.89,413.8 509.24,413.67 509.59,413.54 509.94,413.41 510.28,413.27 510.63,413.14 510.98,413.01 511.32,412.87 511.67,412.74 512.02,412.6 512.37,412.47 512.71,412.34 513.06,412.2 513.41,412.07 513.75,411.93 514.1,411.8 514.45,411.66 514.8,411.53 515.14,411.39 515.49,411.25 515.84,411.12 516.18,410.98 516.53,410.85 516.88,410.71 517.23,410.57 517.57,410.44 517.92,410.3 518.27,410.16 518.61,410.02 518.96,409.89 519.31,409.75 519.65,409.61 520,409.47 520.35,409.33 520.7,409.2 521.04,409.06 521.39,408.92 521.74,408.78 522.08,408.64 522.43,408.5 522.78,408.36 523.13,408.22 523.47,408.08 523.82,407.94 524.17,407.8 524.51,407.66 524.86,407.52 525.21,407.38 525.56,407.24 525.9,407.1 526.25,406.96 526.6,406.82 526.94,406.68 527.29,406.54 527.64,406.4 527.98,406.26 528.33,406.12 528.68,405.98 529.03,405.84 529.37,405.7 529.72,405.56 530.07,405.42 530.41,405.28 530.76,405.14 531.11,405 531.46,404.86 531.8,404.72 532.15,404.58 532.5,404.44 532.84,404.3 533.19,404.16 533.54,404.02 533.89,403.88 534.23,403.74 534.58,403.6 534.93,403.46 535.27,403.31 535.62,403.17 535.97,403.03 536.32,402.89 536.66,402.75 537.01,402.6 537.36,402.46 537.7,402.32 538.05,402.17 538.4,402.03 538.74,401.88 539.09,401.73 539.44,401.59 539.79,401.44 540.13,401.29 540.48,401.15 540.83,401 541.17,400.85 541.52,400.7 541.87,400.55 542.22,400.39 542.56,400.24 542.91,400.09 543.26,399.93 543.6,399.78 543.95,399.62 544.3,399.47 544.65,399.32 544.99,399.16 545.34,399.01 545.69,398.86 546.03,398.71 546.38,398.56 546.73,398.41 547.08,398.26 547.42,398.11 547.77,397.96 548.12,397.8 548.46,397.65 548.81,397.5 549.16,397.35 549.5,397.19 549.85,397.04 550.2,396.88 550.55,396.72 550.89,396.56 551.24,396.4 551.59,396.24 551.93,396.08 552.28,395.91 552.63,395.74 552.98,395.58 553.32,395.4 553.67,395.23 554.02,395.05 554.36,394.88 554.71,394.69 555.06,394.51 555.41,394.32 555.75,394.13 556.1,393.94 556.45,393.75 556.79,393.55 557.14,393.34 557.49,393.14 557.84,392.93 558.18,392.71 558.53,392.5 558.88,392.27 559.22,392.05 559.57,391.82 559.92,391.59 560.26,391.35 560.61,391.1 560.96,390.85 561.31,390.6 561.65,390.34 562,390.07 562.35,389.8 562.69,389.52 563.04,389.24 563.39,388.94 563.74,388.64 564.08,388.34 564.43,388.02 564.78,387.7 565.12,387.37 565.47,387.03 565.82,386.68 566.17,386.32 566.51,385.95 566.86,385.57 567.21,385.18 567.55,384.77 567.9,384.35 568.25,383.91 568.59,383.45 568.94,382.98 569.29,382.49 569.64,381.98 569.98,381.45 570.33,380.9 570.68,380.34 571.02,379.75 571.37,379.14 571.72,378.51 572.07,377.86 572.41,377.19 572.76,376.5 573.11,375.78 573.45,375.02 573.8,374.23 574.15,373.4 574.5,372.52 574.84,371.58 575.19,370.6 575.54,369.55 575.88,368.44 576.23,367.27 576.58,366.02 576.93,364.69 577.27,363.29 577.62,361.68 577.97,359.78 578.31,357.65 578.66,355.33 579.01,352.9 579.35,350.39 579.7,347.73 580.05,344.57 580.4,341.15 580.74,337.77 581.09,334.75 581.44,332.39 581.78,330.62 582.13,329 582.48,327.52 582.83,326.2 583.17,325.05 583.52,324.09 583.87,323.32 584.21,322.7 584.56,322.11 584.91,321.59 585.26,321.17 585.6,320.9 585.95,320.8 586.3,320.86 586.64,321.01 586.99,321.23 587.34,321.51 587.69,321.82 588.03,322.16 588.38,322.5 588.73,322.86 589.07,323.29 589.42,323.78 589.77,324.32 590.11,324.9 590.46,325.52 590.81,326.15 591.16,326.8 591.5,327.45 591.85,328.1 592.2,328.79 592.54,329.51 592.89,330.26 593.24,331.03 593.59,331.83 593.93,332.64 594.28,333.47 594.63,334.31 594.97,335.15 595.32,336 595.67,336.85 596.02,337.7 596.36,338.54 596.71,339.36 597.06,340.17 597.4,340.97 597.75,341.77 598.1,342.58 598.45,343.4 598.79,344.23 599.14,345.07 599.49,345.9 599.83,346.73 600.18,347.55 600.53,348.37 600.87,349.17 601.22,349.96 601.57,350.72 601.92,351.47 602.26,352.19 602.61,352.88 602.96,353.54 603.3,354.16 603.65,354.76 604,355.35 604.35,355.93 604.69,356.49 605.04,357.04 605.39,357.58 605.73,358.11 606.08,358.62 606.43,359.12 606.78,359.61 607.12,360.09 607.47,360.55 607.82,361 608.16,361.43 608.51,361.86 608.86,362.27 609.21,362.67 609.55,363.06 609.9,363.44 610.25,363.82 610.59,364.2 610.94,364.57 611.29,364.94 611.63,365.31 611.98,365.67 612.33,366.03 612.68,366.38 613.02,366.73 613.37,367.07 613.72,367.4 614.06,367.73 614.41,368.06 614.76,368.38 615.11,368.7 615.45,369 615.8,369.31 616.15,369.6 616.49,369.9 616.84,370.18 617.19,370.46 617.54,370.73 617.88,370.99 618.23,371.25 618.58,371.5 618.92,371.75 619.27,371.98 619.62,372.21 619.96,372.44 620.31,372.65 620.66,372.86 621.01,373.06 621.35,373.25 621.7,373.44 622.05,373.63 622.39,373.81 622.74,374 623.09,374.17 623.44,374.35 623.78,374.52 624.13,374.69 624.48,374.85 624.82,375.02 625.17,375.18 625.52,375.34 625.87,375.49 626.21,375.64 626.56,375.79 626.91,375.94 627.25,376.09 627.6,376.23 627.95,376.37 628.3,376.51 628.64,376.65 628.99,376.78 629.34,376.92 629.68,377.05 630.03,377.18 630.38,377.31 630.72,377.44 631.07,377.57 631.42,377.69 631.77,377.82 632.11,377.94 632.46,378.07 632.81,378.19 633.15,378.31 633.5,378.43 633.85,378.55 634.2,378.67 634.54,378.79 634.89,378.91 635.24,379.03 635.58,379.15 635.93,379.27 636.28,379.39 636.63,379.51 636.97,379.63 637.32,379.74 637.67,379.87 638.01,379.99 638.36,380.11 638.71,380.23 639.06,380.35 639.4,380.47 639.75,380.59 640.1,380.71 640.44,380.83 640.79,380.95 641.14,381.07 641.48,381.18 641.83,381.3 642.18,381.42 642.53,381.53 642.87,381.65 643.22,381.76 643.57,381.88 643.91,381.99 644.26,382.11 644.61,382.22 644.96,382.33 645.3,382.44 645.65,382.55 646,382.66 646.34,382.77 646.69,382.88 647.04,382.99 647.39,383.1 647.73,383.2 648.08,383.31 648.43,383.42 648.77,383.52 649.12,383.62 649.47,383.72 649.82,383.83 650.16,383.93 650.51,384.03 650.86,384.12 651.2,384.22 651.55,384.32 651.9,384.41 652.24,384.51 652.59,384.6 652.94,384.7 653.29,384.79 653.63,384.88 653.98,384.97 654.33,385.06 654.67,385.14 655.02,385.23 655.37,385.31 655.72,385.4 656.06,385.48 656.41,385.56 656.76,385.64 657.1,385.73 657.45,385.81 657.8,385.89 658.15,385.97 658.49,386.05 658.84,386.13 659.19,386.21 659.53,386.29 659.88,386.36 660.23,386.44 660.57,386.52 660.92,386.6 661.27,386.67 661.62,386.75 661.96,386.82 662.31,386.9 662.66,386.97 663,387.05 663.35,387.12 663.7,387.19 664.05,387.26 664.39,387.33 664.74,387.41 665.09,387.48 665.43,387.55 665.78,387.61 666.13,387.68 666.48,387.75 666.82,387.82 667.17,387.88 667.52,387.95 667.86,388.01 668.21,388.08 668.56,388.14 668.91,388.21 669.25,388.27 669.6,388.33 669.95,388.39 670.29,388.45 670.64,388.51 670.99,388.57 671.33,388.63 671.68,388.68 672.03,388.74 672.38,388.8 672.72,388.85 673.07,388.9 673.42,388.96 673.76,389.01 674.11,389.06 674.46,389.11 674.81,389.16 675.15,389.21 675.5,389.26" fill="none" stroke="#0000ff" stroke-width="1.4" stroke-linejoin="round" stroke-linecap="round"/>
<path d="M579.6 355.4L583.3 359.1L579.6 362.8L575.9 359.1Z" fill="none" stroke="#ff0000" stroke-width="1.4"/>
<path d="M581.8 345.9L585.5 349.6L581.8 353.3L578.1 349.6Z" fill="none" stroke="#ff0000" stroke-width="1.4"/>
<path d="M584.4 346.8L588.1 350.5L584.4 354.2L580.7 350.5Z" fill="none" stroke="#ff0000" stroke-width="1.4"/>
<path d="M587.3 350.3L591 354L587.3 357.7L583.6 354Z" fill="none" stroke="#ff0000" stroke-width="1.4"/>
<path d="M589.9 354.5L593.6 358.2L589.9 361.9L586.2 358.2Z" fill="none" stroke="#ff0000" stroke-width="1.4"/>
<path d="M592.7 358.7L596.4 362.4L592.7 366.1L589 362.4Z" fill="none" stroke="#ff0000" stroke-width="1.4"/>
<path d="M506.2 277.4H543.7" stroke="#1f8a1f" stroke-width="1.3"/>
<path d="M525.1 293.5L529.2 297.6L525.1 301.7L521 297.6Z" fill="none" stroke="#ff0000" stroke-width="1.5"/>
<text x="547.0" y="283.3" font-size="11.3" font-weight="bold" fill="#111">Indirect method by <tspan font-style="italic">C</tspan>p</text>
<text x="547" y="303.2" font-size="11.3" font-weight="bold" fill="#111">Direct method</text>
<text x="650.4" y="378.6" font-size="12.5" font-weight="bold" fill="#111">3 T</text>
<text x="650" y="413.2" font-size="12.5" font-weight="bold" fill="#111">2 T</text>
<text x="613.0" y="437.4" font-size="13.2" font-weight="bold" fill="#111"><tspan font-style="italic" font-weight="normal" stroke-width="0">μ</tspan><tspan font-size="10" dy="3.5">0</tspan><tspan font-style="italic" dy="-3.5">H</tspan> = 1 T</text>
<rect x="502.3" y="267.8" width="173.2" height="182.4" fill="none" stroke="#262626" stroke-width="1.5"/>
<path d="M502.3 450.2V447M527.04 450.2V447M551.79 450.2V447M576.53 450.2V447M601.27 450.2V447M626.01 450.2V447M650.76 450.2V447M675.5 450.2V447" stroke="#262626" stroke-width="1.1" fill="none"/>
<text x="502.3" y="462.7" font-size="11.6" text-anchor="middle" fill="#111">280</text>
<text x="527.04" y="462.7" font-size="11.6" text-anchor="middle" fill="#111">290</text>
<text x="551.79" y="462.7" font-size="11.6" text-anchor="middle" fill="#111">300</text>
<text x="576.53" y="462.7" font-size="11.6" text-anchor="middle" fill="#111">310</text>
<text x="601.27" y="462.7" font-size="11.6" text-anchor="middle" fill="#111">320</text>
<text x="626.01" y="462.7" font-size="11.6" text-anchor="middle" fill="#111">330</text>
<text x="650.76" y="462.7" font-size="11.6" text-anchor="middle" fill="#111">340</text>
<text x="675.5" y="462.7" font-size="11.6" text-anchor="middle" fill="#111">350</text>
<path d="M502.3 439.47H505.5M502.3 418.01H505.5M502.3 396.55H505.5M502.3 375.09H505.5M502.3 353.64H505.5M502.3 332.18H505.5M502.3 310.72H505.5M502.3 289.26H505.5M502.3 267.8H505.5M502.3 428.74H504.1M502.3 407.28H504.1M502.3 385.82H504.1M502.3 364.36H504.1M502.3 342.91H504.1M502.3 321.45H504.1M502.3 299.99H504.1M502.3 278.53H504.1M502.3 450.2H504.1" stroke="#262626" stroke-width="1.1" fill="none"/>
<text x="498" y="443.37" font-size="11.6" text-anchor="end" fill="#111">0</text>
<text x="498" y="421.91" font-size="11.6" text-anchor="end" fill="#111">1</text>
<text x="498" y="400.45" font-size="11.6" text-anchor="end" fill="#111">2</text>
<text x="498" y="378.99" font-size="11.6" text-anchor="end" fill="#111">3</text>
<text x="498" y="357.54" font-size="11.6" text-anchor="end" fill="#111">4</text>
<text x="498" y="336.08" font-size="11.6" text-anchor="end" fill="#111">5</text>
<text x="498" y="314.62" font-size="11.6" text-anchor="end" fill="#111">6</text>
<text x="498" y="293.16" font-size="11.6" text-anchor="end" fill="#111">7</text>
<text x="498" y="271.7" font-size="11.6" text-anchor="end" fill="#111">8</text>
<text x="592.7" y="478.4" font-size="13.5" text-anchor="middle" fill="#111"><tspan font-style="italic">T</tspan> (K)</text>
<text transform="translate(479.8 357.2) rotate(-90)" font-size="13.5" text-anchor="middle" fill="#111">Δ<tspan font-style="italic">T</tspan><tspan font-size="9.6" dy="3.6">MCE</tspan><tspan dy="-3.6"> (K)</tspan></text>
</svg></body></html>
